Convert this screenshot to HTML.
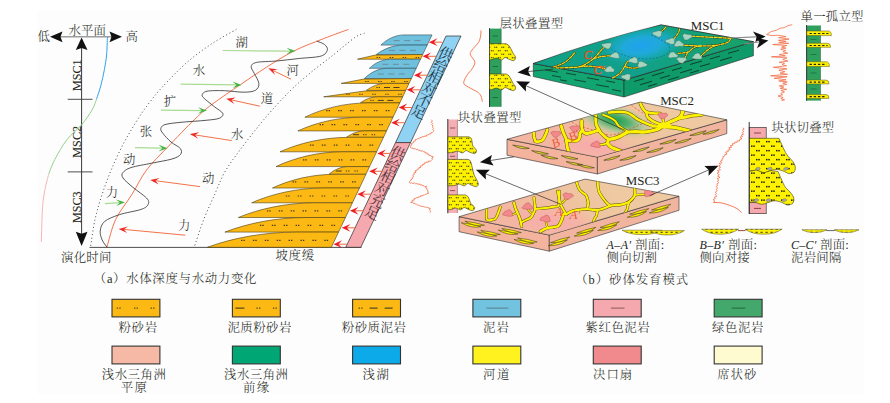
<!DOCTYPE html>
<html lang="zh"><head><meta charset="utf-8"><title>浅水三角洲砂体发育模式</title>
<style>
html,body{margin:0;padding:0;background:#fff;}
body{width:890px;height:403px;overflow:hidden;}
svg{display:block;}
.c{font-family:"Liberation Serif","Noto Serif CJK SC","Noto Sans CJK SC",serif;font-weight:300;}
.l{font-family:"Liberation Serif",serif;font-weight:400;}
.i{font-family:"Liberation Serif",serif;font-style:italic;font-weight:400;}
</style></head><body>
<svg width="890" height="403" viewBox="0 0 890 403">
<defs>
<radialGradient id="lake" cx="0.5" cy="0.5" r="0.5"><stop offset="0" stop-color="#1fa2ee"/><stop offset="0.42" stop-color="#20a9da"/><stop offset="0.74" stop-color="#16a8ae" stop-opacity="0.9"/><stop offset="1" stop-color="#10a58c" stop-opacity="0"/></radialGradient>
<linearGradient id="m1top" x1="0" y1="0" x2="1" y2="0"><stop offset="0" stop-color="#0fa184"/><stop offset="0.45" stop-color="#11a08c"/><stop offset="1" stop-color="#17a267"/></linearGradient>
<radialGradient id="grn2" cx="0.5" cy="0.5" r="0.5"><stop offset="0" stop-color="#1f9c50"/><stop offset="0.3" stop-color="#4fae6a"/><stop offset="0.62" stop-color="#a9c796" stop-opacity="0.85"/><stop offset="1" stop-color="#e9c39c" stop-opacity="0"/></radialGradient>
<radialGradient id="pinkr" cx="0.5" cy="0.5" r="0.5"><stop offset="0" stop-color="#f7abaa"/><stop offset="0.55" stop-color="#f6b0a9" stop-opacity="0.8"/><stop offset="1" stop-color="#f3b9a2" stop-opacity="0"/></radialGradient>
<linearGradient id="m2top" gradientUnits="userSpaceOnUse" x1="655" y1="100" x2="585" y2="160"><stop offset="0" stop-color="#eec9a1"/><stop offset="0.6" stop-color="#f0c0a0"/><stop offset="1" stop-color="#f3b6a2"/></linearGradient>
<linearGradient id="m3top" gradientUnits="userSpaceOnUse" x1="600" y1="178" x2="535" y2="238"><stop offset="0" stop-color="#eec9a1"/><stop offset="0.6" stop-color="#f0c0a0"/><stop offset="1" stop-color="#f3b6a2"/></linearGradient>
<pattern id="dots" width="7" height="7" patternUnits="userSpaceOnUse"><rect width="7" height="7" fill="#fff200"/><rect x="0.8" y="1.2" width="1.1" height="1.1" fill="#2a2a10"/><rect x="2.6" y="1.2" width="1.1" height="1.1" fill="#2a2a10"/><rect x="4.3" y="4.7" width="1.1" height="1.1" fill="#2a2a10"/><rect x="6.1" y="4.7" width="0.9" height="1.1" fill="#2a2a10"/><rect x="0" y="4.7" width="0.2" height="1.1" fill="#2a2a10"/></pattern>
<pattern id="dots3" width="10" height="9" patternUnits="userSpaceOnUse"><rect width="10" height="9" fill="#fff200"/><rect x="1" y="1.4" width="1.5" height="1.5" fill="#1c1c0c"/><rect x="3.3" y="1.4" width="1.5" height="1.5" fill="#1c1c0c"/><rect x="6" y="5.9" width="1.5" height="1.5" fill="#1c1c0c"/><rect x="8.3" y="5.9" width="1.5" height="1.5" fill="#1c1c0c"/></pattern>
<pattern id="dots2" width="5" height="3" patternUnits="userSpaceOnUse"><rect width="5" height="3" fill="#fff200"/><rect x="0.5" y="0.8" width="2.2" height="1" fill="#333"/></pattern>
</defs>
<rect width="890" height="403" fill="#fff"/>
<rect x="37" y="11" width="827" height="383" fill="#fdfdfd"/>

<g id="axis">
<line x1="56" y1="36.8" x2="116" y2="36.8" stroke="#9d9d9d" stroke-width="1.6"/>
<path d="M50,36.8 L62.5,31.6 L60.5,36.8 L62.5,42.2Z" fill="#111" stroke="none" stroke-width="1" />
<path d="M122,36.8 L109.5,31.6 L111.5,36.8 L109.5,42.2Z" fill="#111" stroke="none" stroke-width="1" />
<line x1="81.6" y1="46" x2="81.6" y2="236" stroke="#3a3a3a" stroke-width="1"/>
<path d="M81.6,37.6 L75.8,49.9 L81.6,48 L87.5,49.9Z" fill="#111" stroke="none" stroke-width="1" />
<path d="M81.6,245.9 L75.8,231.8 L81.6,233.8 L87.5,231.8Z" fill="#111" stroke="none" stroke-width="1" />
<line x1="67.7" y1="99.3" x2="92.5" y2="99.3" stroke="#3a3a3a" stroke-width="0.9"/>
<line x1="67.7" y1="171.9" x2="92.5" y2="171.9" stroke="#3a3a3a" stroke-width="0.9"/>
<text x="43.6" y="41.1" font-size="12.4" text-anchor="middle" class="c" fill="#231f20" >低</text>
<text x="87.2" y="34.7" font-size="12.4" text-anchor="middle" class="c" fill="#231f20" textLength="37.4" lengthAdjust="spacing" >水平面</text>
<text x="131.8" y="41.1" font-size="12.4" text-anchor="middle" class="c" fill="#231f20" >高</text>
<text transform="translate(80.7,75.2) rotate(-90)" font-size="12.2" text-anchor="middle" class="l" fill="#231f20" stroke="#231f20" stroke-width="0.1">MSC1</text>
<text transform="translate(80.7,141.8) rotate(-90)" font-size="12.2" text-anchor="middle" class="l" fill="#231f20" stroke="#231f20" stroke-width="0.1">MSC2</text>
<text transform="translate(80.7,207.2) rotate(-90)" font-size="12.2" text-anchor="middle" class="l" fill="#231f20" stroke="#231f20" stroke-width="0.1">MSC3</text>
<path d="M107.4,37 C107.3,40 107.1,49.6 106.6,55 C106.1,60.4 105.3,64.5 104.4,69.5 C103.5,74.5 102.3,80 101,85 C99.7,90 97.2,96.9 96.5,99.3" fill="none" stroke="#2ea3ea" stroke-width="1" />
<path d="M96.5,99.3 C95.8,101.1 94.5,105.8 92,110 C89.5,114.2 85.8,119.8 81.6,124.7 C77.4,129.6 71.5,133.8 67,139.6 C62.5,145.4 57.9,153.7 54.8,159.5 C51.7,165.3 49.6,171.9 48.6,174.4" fill="none" stroke="#93d28b" stroke-width="1" />
<path d="M48.6,174.4 C47.9,177.3 45.5,186.1 44.5,192 C43.5,197.9 42.9,201.7 42.4,210 C41.9,218.3 41.5,236.7 41.3,242" fill="none" stroke="#f8b4b6" stroke-width="1" />
<text x="86.2" y="262.1" font-size="12.4" text-anchor="middle" class="c" fill="#231f20" textLength="50.4" lengthAdjust="spacing" >演化时间</text>
</g>
<line x1="89.5" y1="247.4" x2="361.5" y2="247.4" stroke="#3a3a3a" stroke-width="0.9"/>
<g id="waves">
<path d="M236.4,29.4 C232.3,31.8 220.2,38.1 212,43.6 C203.8,49.1 195.5,55 187.2,62.2 C178.9,69.4 168.6,80.4 162.4,87 C156.2,93.6 153.9,96.9 150,101.9 C146.1,106.9 143.5,110.3 139.2,117 C134.9,123.7 129,133.2 124.3,142 C119.6,150.8 114.9,161.2 111.2,170 C107.5,178.8 104.7,186.5 102,194.8 C99.3,203.1 96.9,211 95,219.6 C93.1,228.2 91.3,242 90.6,246.5" fill="none" stroke="#333" stroke-width="0.9" stroke-dasharray="1 2.6"/>
<path d="M364.5,33.2 C362.9,33.9 360.1,33.8 355,37.4 C349.9,41 340.9,48.9 333.6,54.7 C326.3,60.5 318.7,65.9 311.3,72.1 C303.9,78.3 296.9,84.1 289,92 C281.1,99.9 272.3,109.6 264.1,119.3 C255.9,129 246.6,141.2 240,150 C233.4,158.8 229.1,164.5 224.8,172 C220.6,179.5 218,186.9 214.5,194.8 C211,202.7 207.1,210.9 203.7,219.6 C200.3,228.3 195.9,242.4 194.3,247" fill="none" stroke="#333" stroke-width="0.9" stroke-dasharray="1 2.6"/>
<path d="M107,247 C108.4,242.4 111.5,228.3 115.6,219.6 C119.7,210.9 126.5,203.1 131.7,194.8 C136.9,186.5 140.6,178 146.6,170 C152.6,162 159.7,155.4 167.7,147 C175.7,138.6 187.3,126.4 194.7,119.3 C202.1,112.2 204.3,110.2 212,104.4 C219.7,98.6 231.5,90.7 240.6,84.5 C249.7,78.3 257.7,72.7 266.6,67.1 C275.5,61.5 284.4,55.8 293.9,51 C303.4,46.2 314.6,42.2 323.7,38.6 C332.8,35 344.4,30.9 348.5,29.4" fill="none" stroke="#f2643c" stroke-width="0.9" />
<path d="M316.7,41.1 C318,41.7 322.7,43 324.5,44.5 C326.3,46 327.9,47.9 327.4,49.8 C326.8,51.7 325.9,54.5 321.2,56 C316.4,57.5 306.3,57.7 298.9,58.5 C291.5,59.3 283.6,60.4 276.6,61 C269.6,61.6 260.9,61.5 256.7,62.4 C252.5,63.3 251.6,64.6 251.2,66.4 C250.8,68.2 252.9,70.5 254.2,73.3 C255.5,76.1 258.7,80.7 258.9,83.5 C259.1,86.3 257.9,88.8 255.5,90.2 C253.1,91.7 249.5,92.1 244.3,92.2 C239.1,92.3 230.6,90.9 224.4,90.7 C218.2,90.5 210.7,90.5 207,91.2 C203.3,92 202.3,93.8 202.1,95.2 C201.9,96.6 203.7,97.9 205.8,99.8 C207.9,101.7 211.7,104.5 214.5,106.8 C217.3,109.1 222,111.5 222.8,113.4 C223.6,115.3 222,117.2 219.2,118.3 C216.4,119.4 212.4,119.6 206,120.3 C199.6,121 187.8,121.6 181,122.3 C174.2,123 168.4,123.5 165,124.6 C161.6,125.7 161.1,127.3 160.8,128.8 C160.5,130.3 161.3,131.3 163,133.5 C164.7,135.7 168.1,139.5 171,142 C173.9,144.5 178.7,146.4 180.3,148.5 C181.9,150.6 181.9,152.8 180.5,154.5 C179.1,156.2 176.8,157.6 172,159 C167.2,160.4 158.4,161.8 151.6,163.2 C144.8,164.6 135.8,166 131,167.6 C126.2,169.2 124.3,170.8 123,172.5 C121.7,174.2 121.3,175.5 123,178 C124.7,180.5 129.1,184.1 133,187.4 C136.9,190.7 143.9,195.2 146.5,198 C149.1,200.8 149.1,202.1 148.3,204 C147.5,205.9 146.5,207.4 141.7,209.2 C136.9,211 125.5,212.6 119.3,214.7 C113.1,216.8 107.8,218.8 104.6,221.5 C101.4,224.2 100.6,227.9 100.2,231 C99.8,234.1 101.1,237.3 102.2,240 C103.3,242.7 106.2,246 107,247.2" fill="none" stroke="#3a3a3a" stroke-width="0.85" />
<line x1="222.7" y1="50.5" x2="290.4" y2="51.1" stroke="#a9db92" stroke-width="1.2"/>
<path d="M295.6,51.1 L286.6,54.3 L290.4,51.1 L286.6,47.7Z" fill="#47b546" stroke="none" stroke-width="1" />
<line x1="180.5" y1="84.2" x2="236.4" y2="84.9" stroke="#a9db92" stroke-width="1.2"/>
<path d="M241.6,85 L232.6,88.2 L236.4,84.9 L232.6,81.6Z" fill="#47b546" stroke="none" stroke-width="1" />
<line x1="161" y1="110.2" x2="201.8" y2="110.6" stroke="#a9db92" stroke-width="1.2"/>
<path d="M207,110.6 L198,113.8 L201.8,110.6 L198,107.2Z" fill="#47b546" stroke="none" stroke-width="1" />
<line x1="135" y1="147.7" x2="162.4" y2="148.2" stroke="#a9db92" stroke-width="1.2"/>
<path d="M167.6,148.3 L158.5,151.4 L162.4,148.2 L158.7,144.8Z" fill="#47b546" stroke="none" stroke-width="1" />
<line x1="104.9" y1="203.6" x2="119.8" y2="202.6" stroke="#a9db92" stroke-width="1.2"/>
<path d="M125,202.2 L116.3,206.1 L119.8,202.6 L115.8,199.5Z" fill="#47b546" stroke="none" stroke-width="1" />
<line x1="291" y1="79.2" x2="273" y2="70.5" stroke="#f26a3d" stroke-width="0.95"/>
<path d="M268.3,68.2 L277.8,69.2 L273,70.5 L275,75.1Z" fill="#ee2a24" stroke="none" stroke-width="1" />
<line x1="259.9" y1="106.2" x2="231.3" y2="99.9" stroke="#f26a3d" stroke-width="0.95"/>
<path d="M226.2,98.8 L235.7,97.5 L231.3,99.9 L234.3,104Z" fill="#ee2a24" stroke="none" stroke-width="1" />
<line x1="231.8" y1="140.6" x2="195" y2="134.9" stroke="#f26a3d" stroke-width="0.95"/>
<path d="M189.8,134.1 L199.2,132.2 L195,134.9 L198.2,138.7Z" fill="#ee2a24" stroke="none" stroke-width="1" />
<line x1="200" y1="186.6" x2="155.4" y2="180.7" stroke="#f26a3d" stroke-width="0.95"/>
<path d="M150.2,180 L159.6,177.9 L155.4,180.7 L158.7,184.5Z" fill="#ee2a24" stroke="none" stroke-width="1" />
<line x1="185.2" y1="235.2" x2="123.8" y2="229.4" stroke="#f26a3d" stroke-width="0.95"/>
<path d="M118.6,228.9 L127.9,226.5 L123.8,229.4 L127.2,233Z" fill="#ee2a24" stroke="none" stroke-width="1" />
<text x="241.8" y="46.8" font-size="12.4" text-anchor="middle" class="c" fill="#231f20" >湖</text>
<text x="199" y="75.4" font-size="12.4" text-anchor="middle" class="c" fill="#231f20" >水</text>
<text x="169.9" y="105.9" font-size="12.4" text-anchor="middle" class="c" fill="#231f20" >扩</text>
<text x="146" y="135.5" font-size="12.4" text-anchor="middle" class="c" fill="#231f20" >张</text>
<text x="129.3" y="164" font-size="12.4" text-anchor="middle" class="c" fill="#231f20" >动</text>
<text x="111.9" y="196.8" font-size="12.4" text-anchor="middle" class="c" fill="#231f20" >力</text>
<text x="292.7" y="75.4" font-size="12.4" text-anchor="middle" class="c" fill="#231f20" >河</text>
<text x="267" y="102.7" font-size="12.4" text-anchor="middle" class="c" fill="#231f20" >道</text>
<text x="237.2" y="138.6" font-size="12.4" text-anchor="middle" class="c" fill="#231f20" >水</text>
<text x="208.1" y="182.5" font-size="12.4" text-anchor="middle" class="c" fill="#231f20" >动</text>
<text x="184.3" y="230.3" font-size="12.4" text-anchor="middle" class="c" fill="#231f20" >力</text>
</g>
<g id="lobes">
<path d="M380.9,45.1 C387.3,39 395.4,34.9 404,34.9 L432,34.9 L427.2,45.1 Z" fill="#6fc0dd" stroke="#2d4a55" stroke-width="0.6" stroke-linejoin="round"/>
<path d="M376.3,54.5 C383.8,48.9 393.1,45.1 403.2,45.1 L427.2,45.1 L422.7,54.5 Z" fill="#6fc0dd" stroke="#2d4a55" stroke-width="0.6" stroke-linejoin="round"/>
<path d="M357.5,59.2 L375.1,55.1 L422.7,54.5 L420.5,59.2 Z" fill="#fdb913" stroke="#4a3a12" stroke-width="0.6" stroke-linejoin="round"/>
<path d="M369.4,68.3 C375.2,62.8 382.6,59.2 390.5,59.2 L420.5,59.2 L416.2,68.3 Z" fill="#6fc0dd" stroke="#2d4a55" stroke-width="0.6" stroke-linejoin="round"/>
<path d="M364.4,78.5 C370.7,72.4 378.5,68.3 386.9,68.3 L416.2,68.3 L411.4,78.5 Z" fill="#6fc0dd" stroke="#2d4a55" stroke-width="0.6" stroke-linejoin="round"/>
<path d="M341.2,83.4 L363.6,79.1 L411.4,78.5 L409,83.4 Z" fill="#fdb913" stroke="#4a3a12" stroke-width="0.6" stroke-linejoin="round"/>
<path d="M366.4,90.4 C371.9,86.2 378.7,83.4 386.1,83.4 L409,83.4 L405.7,90.4 Z" fill="#fdb913" stroke="#4a3a12" stroke-width="0.6" stroke-linejoin="round"/>
<path d="M323.7,96.8 L364.8,91 L405.7,90.4 L402.7,96.8 Z" fill="#fdb913" stroke="#4a3a12" stroke-width="0.6" stroke-linejoin="round"/>
<path d="M360.4,102.9 C365.3,99.2 371.5,96.8 378.1,96.8 L402.7,96.8 L399.8,102.9 Z" fill="#fdb913" stroke="#4a3a12" stroke-width="0.6" stroke-linejoin="round"/>
<path d="M304.9,117.2 C322.5,108.6 344.6,102.9 368.3,102.9 L399.8,102.9 L393,117.2 Z" fill="#fdb913" stroke="#4a3a12" stroke-width="0.6" stroke-linejoin="round"/>
<path d="M297.9,130.9 C315.6,122.7 337.8,117.2 361.7,117.2 L393,117.2 L386.5,130.9 Z" fill="#fdb913" stroke="#4a3a12" stroke-width="0.6" stroke-linejoin="round"/>
<path d="M346.5,137.3 C351.6,133.5 358.1,130.9 365,130.9 L386.5,130.9 L383.5,137.3 Z" fill="#fdb913" stroke="#4a3a12" stroke-width="0.6" stroke-linejoin="round"/>
<path d="M280,151.8 C299.3,143.1 323.5,137.3 349.6,137.3 L383.5,137.3 L376.6,151.8 Z" fill="#fdb913" stroke="#4a3a12" stroke-width="0.6" stroke-linejoin="round"/>
<path d="M276,166.6 C294.7,157.7 318.1,151.8 343.4,151.8 L376.6,151.8 L369.6,166.6 Z" fill="#fdb913" stroke="#4a3a12" stroke-width="0.6" stroke-linejoin="round"/>
<path d="M329,174.3 C334.3,169.7 341,166.6 348.2,166.6 L369.6,166.6 L365.9,174.3 Z" fill="#fdb913" stroke="#4a3a12" stroke-width="0.6" stroke-linejoin="round"/>
<path d="M272.5,188 C289.9,179.8 311.6,174.3 335.1,174.3 L365.9,174.3 L359.5,188 Z" fill="#fdb913" stroke="#4a3a12" stroke-width="0.6" stroke-linejoin="round"/>
<path d="M251.7,202.8 C271.8,193.9 297,188 324.2,188 L359.5,188 L352.4,202.8 Z" fill="#fdb913" stroke="#4a3a12" stroke-width="0.6" stroke-linejoin="round"/>
<path d="M238.3,217.5 C259.7,208.7 286.5,202.8 315.5,202.8 L352.4,202.8 L345.5,217.5 Z" fill="#fdb913" stroke="#4a3a12" stroke-width="0.6" stroke-linejoin="round"/>
<path d="M224.9,232.1 C247.6,223.3 276,217.5 306.7,217.5 L345.5,217.5 L338.5,232.1 Z" fill="#fdb913" stroke="#4a3a12" stroke-width="0.6" stroke-linejoin="round"/>
<path d="M207.4,247.3 C232.2,238.2 263.2,232.1 296.6,232.1 L338.5,232.1 L331.3,247.3 Z" fill="#fdb913" stroke="#4a3a12" stroke-width="0.6" stroke-linejoin="round"/>
<line x1="393.6" y1="40.6" x2="399.6" y2="40.6" stroke="#6a8894" stroke-width="0.9"/><line x1="404.1" y1="40.6" x2="410.1" y2="40.6" stroke="#6a8894" stroke-width="0.9"/><line x1="414.6" y1="40.6" x2="420.6" y2="40.6" stroke="#6a8894" stroke-width="0.9"/><line x1="389" y1="50.4" x2="395" y2="50.4" stroke="#6a8894" stroke-width="0.9"/><line x1="399.5" y1="50.4" x2="405.5" y2="50.4" stroke="#6a8894" stroke-width="0.9"/><line x1="410" y1="50.4" x2="416" y2="50.4" stroke="#6a8894" stroke-width="0.9"/><path d="M415.6,57.5 h1.3 m1,0 h1.3" stroke="#4b3b1a" stroke-width="1.1"/><path d="M402.6,57.5 h1.3 m1,0 h1.3" stroke="#4b3b1a" stroke-width="1.1"/><path d="M389.6,57.5 h1.3 m1,0 h1.3" stroke="#4b3b1a" stroke-width="1.1"/><path d="M376.6,57.5 h1.3 m1,0 h1.3" stroke="#4b3b1a" stroke-width="1.1"/><line x1="382.3" y1="64.3" x2="388.3" y2="64.3" stroke="#6a8894" stroke-width="0.9"/><line x1="392.8" y1="64.3" x2="398.8" y2="64.3" stroke="#6a8894" stroke-width="0.9"/><line x1="403.3" y1="64.3" x2="409.3" y2="64.3" stroke="#6a8894" stroke-width="0.9"/><line x1="377.8" y1="74" x2="383.8" y2="74" stroke="#6a8894" stroke-width="0.9"/><line x1="388.3" y1="74" x2="394.3" y2="74" stroke="#6a8894" stroke-width="0.9"/><line x1="398.8" y1="74" x2="404.8" y2="74" stroke="#6a8894" stroke-width="0.9"/><path d="M404.2,81.5 h1.3 m1,0 h1.3" stroke="#4b3b1a" stroke-width="1.1"/><path d="M391.2,81.5 h1.3 m1,0 h1.3" stroke="#4b3b1a" stroke-width="1.1"/><path d="M378.2,81.5 h1.3 m1,0 h1.3" stroke="#4b3b1a" stroke-width="1.1"/><path d="M365.2,81.5 h1.3 m1,0 h1.3" stroke="#4b3b1a" stroke-width="1.1"/><path d="M376.4,87.5 h1.3 m1,0 h1.3 m4,0 h6 m3.5,0 h6" stroke="#4b3b1a" stroke-width="1"/><path d="M398.2,94.2 h1.3 m1,0 h1.3" stroke="#4b3b1a" stroke-width="1.1"/><path d="M385.2,94.2 h1.3 m1,0 h1.3" stroke="#4b3b1a" stroke-width="1.1"/><path d="M372.2,94.2 h1.3 m1,0 h1.3" stroke="#4b3b1a" stroke-width="1.1"/><path d="M359.2,94.2 h1.3 m1,0 h1.3" stroke="#4b3b1a" stroke-width="1.1"/><path d="M346.2,94.2 h1.3 m1,0 h1.3" stroke="#4b3b1a" stroke-width="1.1"/><path d="M370.2,100.4 h1.3 m1,0 h1.3 m4,0 h6 m3.5,0 h6" stroke="#4b3b1a" stroke-width="1"/><path d="M385.7,110.7 h1.4 m1,0 h1.4" stroke="#4b3b1a" stroke-width="1.2"/><path d="M373.8,110.7 h1.4 m1,0 h1.4" stroke="#4b3b1a" stroke-width="1.2"/><path d="M361.9,110.7 h1.4 m1,0 h1.4" stroke="#4b3b1a" stroke-width="1.2"/><path d="M350,110.7 h1.4 m1,0 h1.4" stroke="#4b3b1a" stroke-width="1.2"/><path d="M338.1,110.7 h1.4 m1,0 h1.4" stroke="#4b3b1a" stroke-width="1.2"/><path d="M326.2,110.7 h1.4 m1,0 h1.4" stroke="#4b3b1a" stroke-width="1.2"/><path d="M379.1,124.7 h1.4 m1,0 h1.4" stroke="#4b3b1a" stroke-width="1.2"/><path d="M367.2,124.7 h1.4 m1,0 h1.4" stroke="#4b3b1a" stroke-width="1.2"/><path d="M355.3,124.7 h1.4 m1,0 h1.4" stroke="#4b3b1a" stroke-width="1.2"/><path d="M343.4,124.7 h1.4 m1,0 h1.4" stroke="#4b3b1a" stroke-width="1.2"/><path d="M331.5,124.7 h1.4 m1,0 h1.4" stroke="#4b3b1a" stroke-width="1.2"/><path d="M319.6,124.7 h1.4 m1,0 h1.4" stroke="#4b3b1a" stroke-width="1.2"/><path d="M353,134.7 h6 m4,0 h1.3 m1,0 h1.3 m5,0 h1.3 m1,0 h1.3" stroke="#4b3b1a" stroke-width="1"/><path d="M369.4,145.2 h1.4 m1,0 h1.4" stroke="#4b3b1a" stroke-width="1.2"/><path d="M357.5,145.2 h1.4 m1,0 h1.4" stroke="#4b3b1a" stroke-width="1.2"/><path d="M345.6,145.2 h1.4 m1,0 h1.4" stroke="#4b3b1a" stroke-width="1.2"/><path d="M333.7,145.2 h1.4 m1,0 h1.4" stroke="#4b3b1a" stroke-width="1.2"/><path d="M321.8,145.2 h1.4 m1,0 h1.4" stroke="#4b3b1a" stroke-width="1.2"/><path d="M309.9,145.2 h1.4 m1,0 h1.4" stroke="#4b3b1a" stroke-width="1.2"/><path d="M362.4,159.8 h1.4 m1,0 h1.4" stroke="#4b3b1a" stroke-width="1.2"/><path d="M350.5,159.8 h1.4 m1,0 h1.4" stroke="#4b3b1a" stroke-width="1.2"/><path d="M338.6,159.8 h1.4 m1,0 h1.4" stroke="#4b3b1a" stroke-width="1.2"/><path d="M326.7,159.8 h1.4 m1,0 h1.4" stroke="#4b3b1a" stroke-width="1.2"/><path d="M314.8,159.8 h1.4 m1,0 h1.4" stroke="#4b3b1a" stroke-width="1.2"/><path d="M302.9,159.8 h1.4 m1,0 h1.4" stroke="#4b3b1a" stroke-width="1.2"/><path d="M335.8,171 h6 m4,0 h1.3 m1,0 h1.3 m5,0 h1.3 m1,0 h1.3" stroke="#4b3b1a" stroke-width="1"/><path d="M352,181.8 h1.4 m1,0 h1.4" stroke="#4b3b1a" stroke-width="1.2"/><path d="M340.1,181.8 h1.4 m1,0 h1.4" stroke="#4b3b1a" stroke-width="1.2"/><path d="M328.2,181.8 h1.4 m1,0 h1.4" stroke="#4b3b1a" stroke-width="1.2"/><path d="M316.3,181.8 h1.4 m1,0 h1.4" stroke="#4b3b1a" stroke-width="1.2"/><path d="M304.4,181.8 h1.4 m1,0 h1.4" stroke="#4b3b1a" stroke-width="1.2"/><path d="M292.5,181.8 h1.4 m1,0 h1.4" stroke="#4b3b1a" stroke-width="1.2"/><path d="M345.3,196 h1.4 m1,0 h1.4" stroke="#4b3b1a" stroke-width="1.2"/><path d="M333.4,196 h1.4 m1,0 h1.4" stroke="#4b3b1a" stroke-width="1.2"/><path d="M321.5,196 h1.4 m1,0 h1.4" stroke="#4b3b1a" stroke-width="1.2"/><path d="M309.6,196 h1.4 m1,0 h1.4" stroke="#4b3b1a" stroke-width="1.2"/><path d="M297.7,196 h1.4 m1,0 h1.4" stroke="#4b3b1a" stroke-width="1.2"/><path d="M285.8,196 h1.4 m1,0 h1.4" stroke="#4b3b1a" stroke-width="1.2"/><path d="M338.3,210.8 h1.4 m1,0 h1.4" stroke="#4b3b1a" stroke-width="1.2"/><path d="M326.4,210.8 h1.4 m1,0 h1.4" stroke="#4b3b1a" stroke-width="1.2"/><path d="M314.5,210.8 h1.4 m1,0 h1.4" stroke="#4b3b1a" stroke-width="1.2"/><path d="M302.6,210.8 h1.4 m1,0 h1.4" stroke="#4b3b1a" stroke-width="1.2"/><path d="M290.7,210.8 h1.4 m1,0 h1.4" stroke="#4b3b1a" stroke-width="1.2"/><path d="M278.8,210.8 h1.4 m1,0 h1.4" stroke="#4b3b1a" stroke-width="1.2"/><path d="M266.9,210.8 h1.4 m1,0 h1.4" stroke="#4b3b1a" stroke-width="1.2"/><path d="M331.3,225.4 h1.4 m1,0 h1.4" stroke="#4b3b1a" stroke-width="1.2"/><path d="M319.4,225.4 h1.4 m1,0 h1.4" stroke="#4b3b1a" stroke-width="1.2"/><path d="M307.5,225.4 h1.4 m1,0 h1.4" stroke="#4b3b1a" stroke-width="1.2"/><path d="M295.6,225.4 h1.4 m1,0 h1.4" stroke="#4b3b1a" stroke-width="1.2"/><path d="M283.7,225.4 h1.4 m1,0 h1.4" stroke="#4b3b1a" stroke-width="1.2"/><path d="M271.8,225.4 h1.4 m1,0 h1.4" stroke="#4b3b1a" stroke-width="1.2"/><path d="M259.9,225.4 h1.4 m1,0 h1.4" stroke="#4b3b1a" stroke-width="1.2"/><path d="M324.3,240.3 h1.4 m1,0 h1.4" stroke="#4b3b1a" stroke-width="1.2"/><path d="M312.4,240.3 h1.4 m1,0 h1.4" stroke="#4b3b1a" stroke-width="1.2"/><path d="M300.5,240.3 h1.4 m1,0 h1.4" stroke="#4b3b1a" stroke-width="1.2"/><path d="M288.6,240.3 h1.4 m1,0 h1.4" stroke="#4b3b1a" stroke-width="1.2"/><path d="M276.7,240.3 h1.4 m1,0 h1.4" stroke="#4b3b1a" stroke-width="1.2"/><path d="M264.8,240.3 h1.4 m1,0 h1.4" stroke="#4b3b1a" stroke-width="1.2"/><path d="M252.9,240.3 h1.4 m1,0 h1.4" stroke="#4b3b1a" stroke-width="1.2"/><path d="M241,240.3 h1.4 m1,0 h1.4" stroke="#4b3b1a" stroke-width="1.2"/>
</g>
<g id="slab">
<path d="M446,36 L461,36 L410.5,142.6 L395.5,142.6Z" fill="#8fd2f3" stroke="#2b2b2b" stroke-width="0.7" />
<path d="M395.5,142.6 L410.5,142.6 L360.8,247.3 L345.8,247.3Z" fill="#f5a8ae" stroke="#2b2b2b" stroke-width="0.7" />
<text transform="translate(446,53.9) rotate(25.4)" font-size="14.4" text-anchor="middle" y="5.2" class="c" style="font-weight:400" fill="#1f3a4c">供</text>
<text transform="translate(440.5,65.5) rotate(25.4)" font-size="14.4" text-anchor="middle" y="5.2" class="c" style="font-weight:400" fill="#1f3a4c">给</text>
<text transform="translate(435.1,77.1) rotate(25.4)" font-size="14.4" text-anchor="middle" y="5.2" class="c" style="font-weight:400" fill="#1f3a4c">相</text>
<text transform="translate(429.6,88.8) rotate(25.4)" font-size="14.4" text-anchor="middle" y="5.2" class="c" style="font-weight:400" fill="#1f3a4c">对</text>
<text transform="translate(424.2,100.4) rotate(25.4)" font-size="14.4" text-anchor="middle" y="5.2" class="c" style="font-weight:400" fill="#1f3a4c">不</text>
<text transform="translate(418.7,112) rotate(25.4)" font-size="14.4" text-anchor="middle" y="5.2" class="c" style="font-weight:400" fill="#1f3a4c">足</text>
<text transform="translate(398,153.4) rotate(25.4)" font-size="14.4" text-anchor="middle" y="5.2" class="c" style="font-weight:400" fill="#55343a">供</text>
<text transform="translate(392.8,165.3) rotate(25.4)" font-size="14.4" text-anchor="middle" y="5.2" class="c" style="font-weight:400" fill="#55343a">给</text>
<text transform="translate(387.7,177.2) rotate(25.4)" font-size="14.4" text-anchor="middle" y="5.2" class="c" style="font-weight:400" fill="#55343a">相</text>
<text transform="translate(382.5,189.1) rotate(25.4)" font-size="14.4" text-anchor="middle" y="5.2" class="c" style="font-weight:400" fill="#55343a">对</text>
<text transform="translate(377.4,201) rotate(25.4)" font-size="14.4" text-anchor="middle" y="5.2" class="c" style="font-weight:400" fill="#55343a">充</text>
<text transform="translate(372.2,212.9) rotate(25.4)" font-size="14.4" text-anchor="middle" y="5.2" class="c" style="font-weight:400" fill="#55343a">足</text>
</g>
<g id="feed">
<line x1="442.4" y1="42.2" x2="433.9" y2="42.2" stroke="#f26a3d" stroke-width="1.0"/>
<path d="M428.9,42.2 L437.5,38.3 L433.9,42.2 L437.5,46.1Z" fill="#ee1c24" stroke="none" stroke-width="1" />
<line x1="436" y1="56.3" x2="427.5" y2="56.3" stroke="#f26a3d" stroke-width="1.0"/>
<path d="M422.5,56.3 L431.1,52.4 L427.5,56.3 L431.1,60.2Z" fill="#ee1c24" stroke="none" stroke-width="1" />
<line x1="427.5" y1="75.2" x2="419" y2="75.2" stroke="#f26a3d" stroke-width="1.0"/>
<path d="M414,75.2 L422.6,71.3 L419,75.2 L422.6,79.1Z" fill="#ee1c24" stroke="none" stroke-width="1" />
<line x1="420.2" y1="89.8" x2="411.7" y2="89.8" stroke="#f26a3d" stroke-width="1.0"/>
<path d="M406.7,89.8 L415.3,85.9 L411.7,89.8 L415.3,93.7Z" fill="#ee1c24" stroke="none" stroke-width="1" />
<line x1="412.2" y1="107.5" x2="403.7" y2="107.5" stroke="#f26a3d" stroke-width="1.0"/>
<path d="M398.7,107.5 L407.3,103.6 L403.7,107.5 L407.3,111.4Z" fill="#ee1c24" stroke="none" stroke-width="1" />
<line x1="404.7" y1="122.7" x2="396.2" y2="122.7" stroke="#f26a3d" stroke-width="1.0"/>
<path d="M391.2,122.7 L399.8,118.8 L396.2,122.7 L399.8,126.6Z" fill="#ee1c24" stroke="none" stroke-width="1" />
<line x1="390.8" y1="153.4" x2="382.3" y2="153.4" stroke="#f26a3d" stroke-width="1.0"/>
<path d="M377.3,153.4 L385.9,149.5 L382.3,153.4 L385.9,157.3Z" fill="#ee1c24" stroke="none" stroke-width="1" />
<line x1="382.7" y1="171.3" x2="374.2" y2="171.3" stroke="#f26a3d" stroke-width="1.0"/>
<path d="M369.2,171.3 L377.8,167.4 L374.2,171.3 L377.8,175.2Z" fill="#ee1c24" stroke="none" stroke-width="1" />
<line x1="370.8" y1="194.2" x2="362.3" y2="194.2" stroke="#f26a3d" stroke-width="1.0"/>
<path d="M357.3,194.2 L365.9,190.3 L362.3,194.2 L365.9,198.1Z" fill="#ee1c24" stroke="none" stroke-width="1" />
<line x1="363.4" y1="210.8" x2="354.9" y2="210.8" stroke="#f26a3d" stroke-width="1.0"/>
<path d="M349.9,210.8 L358.5,206.9 L354.9,210.8 L358.5,214.7Z" fill="#ee1c24" stroke="none" stroke-width="1" />
<line x1="355.3" y1="227.8" x2="346.8" y2="227.8" stroke="#f26a3d" stroke-width="1.0"/>
<path d="M341.8,227.8 L350.4,223.9 L346.8,227.8 L350.4,231.7Z" fill="#ee1c24" stroke="none" stroke-width="1" />
<line x1="347" y1="244.2" x2="338.5" y2="244.2" stroke="#f26a3d" stroke-width="1.0"/>
<path d="M333.5,244.2 L342.1,240.3 L338.5,244.2 L342.1,248.1Z" fill="#ee1c24" stroke="none" stroke-width="1" />
</g>
<text x="294.8" y="260.1" font-size="12.4" text-anchor="middle" class="c" fill="#231f20" textLength="38.5" lengthAdjust="spacing" >坡度缓</text>
<path d="M431.3,119.7 L432.3,120.9 L431.4,122.3 L432.5,123.5 L431.8,124.8 L433.1,126 L432.5,127.2 L433.5,128.3 L432.8,129.6 L433.7,130.7 L433.2,131.8 L432.4,132.6 L431,132.7 L430.6,134 L429,134 L428.3,134.9 L426.7,134.9 L426.3,136.3 L424.6,135.9 L423.9,137 L422.2,136.5 L421.5,137.7 L419.9,137.5 L419.2,138.6 L417.8,138.7 L416.9,139.4 L415.3,139.5 L415.3,141 L413.5,141.5 L413.4,142.9 L411.3,143.4 L411.9,145 L410.3,146.1 L410.5,147.4 L411.5,148 L412.9,148 L413.7,149 L415.3,148.6 L416.2,149.6 L417.7,149.3 L418.5,150.4 L420,150.2 L420.8,151.3 L422.4,150.7 L423.2,151.7 L424.7,151.7 L425.1,153 L426.9,152.8 L427.1,154.2 L428.7,154.2 L429,155.5 L430.7,155.4 L431.3,156.4 L433.4,156.9 L431.9,157.9 L432.3,159.4 L431.2,160.5 L430.5,161.4 L428.8,161 L428.2,162.3 L426.6,161.8 L426,163 L424.2,162.9 L424.2,164.3 L422.4,164.5 L422.3,165.8 L420.5,165.9 L420.8,167.5 L418.9,167.6 L418.8,169 L417.3,169.3 L417,170.6 L415,170.8 L415.9,172.4 L413.7,173 L414.3,174.5 L412.9,175.3 L413.5,176.8 L412.1,177.6 L412.2,179 L410.8,179.7 L410.6,180.8 L409.5,181.6 L409.2,182.2 L410.4,183.1 L411.8,182.8 L412.9,183.6 L414.4,182.9 L415.6,183.8 L417,183.5 L418,184.4 L419.6,183.9 L420.2,185.2 L421.8,184.6 L422.5,185.7 L423.9,185.6 L424.7,186.5 L426.8,186.4 L425.5,187.9 L427.2,188.7 L427,189.9 L428.1,190.8 L427.8,192.1 L428.8,193.4 L427.3,193.2 L426.6,194.2 L425.3,194.3 L424.5,195.1 L423,195 L422.3,196.1 L420.7,195.6 L420.2,197 L418.6,196.7 L418,197.8 L416.4,197.5 L415.8,198.4 L414.1,198.7 L414.2,200.2 L412.2,200.2 L412.4,201.8 L410.7,202.5 L412.2,202.3 L413,203.2 L414.5,203.1 L415.2,204.1 L416.5,204.2 L417.4,205 L418.7,205 L419.5,205.9 L420.9,206 L421.9,206.5 L423.2,206.4 L424.2,207.1 L425.5,206.9 L426.5,207.5 L427.9,207.1 L428.7,208.3 L430.3,208.2 L429.6,209.7 L430.5,211.2 L430,212.7" fill="none" stroke="#f2673c" stroke-width="0.75" stroke-linejoin="round"/>
<g id="col-layer">
<rect x="489.5" y="28.6" width="11.7" height="78.2" fill="#2e9f5d"/>
<line x1="489.5" y1="28.2" x2="489.5" y2="107" stroke="#222" stroke-width="0.9"/>
<line x1="501.2" y1="28.6" x2="501.2" y2="106.8" stroke="#1d5c39" stroke-width="0.5"/>
<line x1="492.5" y1="36" x2="498" y2="36" stroke="#17663c" stroke-width="0.8"/>
<line x1="492.5" y1="66.5" x2="498" y2="66.5" stroke="#17663c" stroke-width="0.8"/>
<line x1="492.5" y1="97.5" x2="498" y2="97.5" stroke="#17663c" stroke-width="0.8"/>
<path d="M489.5,43.7 L506.2,43.7 C506.6,44 507.9,44.5 508.7,45.3 C509.5,46.2 510.2,47.5 510.9,48.8 C511.7,50.1 512.3,51.8 513.1,53.2 C513.9,54.6 515.5,56 515.6,57.2 C515.7,58.4 515,60.2 513.9,60.6 C512.8,61 510.4,59.8 509,59.3 C507.6,58.8 506.4,57.4 505.2,57.5 C504,57.6 503,59.8 501.6,59.9 C500.2,60 498.2,58.2 496.6,58.1 C495,58 493.3,59.2 492.1,59.5 C490.9,59.8 489.9,59.7 489.5,59.7 Z" fill="url(#dots)" stroke="#3a3a1a" stroke-width="0.6" stroke-linejoin="round"/>
<path d="M489.5,74 L506.2,74 C506.6,74.3 507.9,74.8 508.7,75.6 C509.5,76.4 510.2,77.7 510.9,79 C511.7,80.3 512.3,82 513.1,83.4 C513.9,84.7 515.5,86 515.6,87.2 C515.7,88.4 515,90.3 513.9,90.6 C512.8,91 510.4,89.8 509,89.3 C507.6,88.8 506.4,87.4 505.2,87.5 C504,87.6 503,89.8 501.6,89.9 C500.2,90 498.2,88.2 496.6,88.1 C495,88 493.3,89.2 492.1,89.5 C490.9,89.8 489.9,89.7 489.5,89.7 Z" fill="url(#dots)" stroke="#3a3a1a" stroke-width="0.6" stroke-linejoin="round"/>
<path d="M481,30.4 C480.9,31.3 481,34 480.6,36 C480.2,38 480,40 478.6,42.3 C477.2,44.6 473.4,47.9 472,50 C470.6,52.1 469.9,52.7 470.4,54.7 C470.9,56.7 474.6,59.7 474.9,62.1 C475.2,64.5 473.2,66.9 472,69 C470.8,71.1 468.8,72.2 467.4,74.6 C466,77 463.3,81 463.7,83.2 C464.1,85.4 467.7,86.5 470,88 C472.3,89.5 475.5,90.6 477.3,91.9 C479.1,93.2 480.2,94.3 481,96 C481.8,97.7 482.1,100.8 482.3,101.8" fill="none" stroke="#f15a29" stroke-width="0.8" />
<text x="531.3" y="28.1" font-size="12.4" text-anchor="middle" class="c" fill="#231f20" textLength="63.5" lengthAdjust="spacing" >层状叠置型</text>
</g>
<g id="col-block">
<rect x="447.8" y="119.5" width="9.6" height="93.5" fill="#f5b0b5"/>
<line x1="447.8" y1="119" x2="447.8" y2="213.3" stroke="#222" stroke-width="0.9"/>
<line x1="457.4" y1="119.5" x2="457.4" y2="213" stroke="#6d3a3f" stroke-width="0.5"/>
<line x1="450" y1="128" x2="455.2" y2="128" stroke="#7a3b40" stroke-width="0.8"/>
<line x1="450" y1="156.3" x2="455.2" y2="156.3" stroke="#7a3b40" stroke-width="0.8"/>
<line x1="450" y1="190.6" x2="455.2" y2="190.6" stroke="#7a3b40" stroke-width="0.8"/>
<path d="M447.9,136.8 L468.8,136.8 C469.2,137.1 470.7,137.6 471.3,138.4 C471.8,139.2 471.8,140.6 472.1,141.9 C472.4,143.2 472.3,144.9 473,146.3 C473.7,147.7 476.2,149 476.5,150.2 C476.8,151.4 475.9,153.2 474.8,153.6 C473.7,153.9 471.3,152.8 469.9,152.3 C468.4,151.8 467.3,150.4 466.1,150.5 C464.9,150.6 463.9,152.8 462.5,152.9 C461.1,153 459.1,151.2 457.5,151.1 C455.9,151 454.6,152.2 453,152.5 C451.4,152.8 448.8,152.7 447.9,152.7 Z" fill="url(#dots)" stroke="#3a3a1a" stroke-width="0.6" stroke-linejoin="round"/>
<path d="M447.9,159.4 L467.9,159.4 C468.3,159.7 469.7,159.6 470.4,161 C471.1,162.4 471.7,165.3 472.3,167.6 C472.9,169.9 473.1,172.1 474.1,174.7 C475.1,177.3 477.8,181.2 478.2,183.2 C478.6,185.2 477.6,186.2 476.5,186.6 C475.4,186.9 473,185.8 471.6,185.3 C470.1,184.8 469,183.4 467.8,183.5 C466.6,183.6 465.6,185.8 464.2,185.9 C462.8,186 460.8,184.2 459.2,184.1 C457.6,184 456.6,185.2 454.7,185.5 C452.8,185.8 449,185.7 447.9,185.7 Z" fill="url(#dots)" stroke="#3a3a1a" stroke-width="0.6" stroke-linejoin="round"/>
<path d="M447.9,194.9 L465.4,194.9 C465.8,195.2 467.2,195.7 467.9,196.5 C468.6,197.3 468.9,198.4 469.4,199.6 C469.9,200.8 470.1,202.5 471,203.7 C471.9,205 474.3,206.1 474.6,207.2 C474.9,208.3 474,210.2 472.9,210.6 C471.8,210.9 469.4,209.8 468,209.3 C466.6,208.8 465.4,207.4 464.2,207.5 C463,207.6 462,209.8 460.6,209.9 C459.2,210 457.2,208.2 455.6,208.1 C454,208 452.4,209.2 451.1,209.5 C449.8,209.8 448.4,209.7 447.9,209.7 Z" fill="url(#dots)" stroke="#3a3a1a" stroke-width="0.6" stroke-linejoin="round"/>
<text x="489.6" y="122.2" font-size="12.4" text-anchor="middle" class="c" fill="#231f20" textLength="63.8" lengthAdjust="spacing" >块状叠置型</text>
</g>
<g id="col-single">
<rect x="806.6" y="25.5" width="13.9" height="75.1" fill="#2e9f5d"/>
<line x1="806.6" y1="25" x2="806.6" y2="100.8" stroke="#222" stroke-width="0.9"/>
<line x1="820.5" y1="25.5" x2="820.5" y2="100.6" stroke="#1d5c39" stroke-width="0.5"/>
<line x1="810.5" y1="39.5" x2="816.5" y2="39.5" stroke="#17663c" stroke-width="0.7"/>
<line x1="810.5" y1="54.5" x2="816.5" y2="54.5" stroke="#17663c" stroke-width="0.7"/>
<line x1="810.5" y1="73" x2="816.5" y2="73" stroke="#17663c" stroke-width="0.7"/>
<line x1="810.5" y1="89" x2="816.5" y2="89" stroke="#17663c" stroke-width="0.7"/>
<path d="M806.8,31 L828.4,31 Q831.4,31 831.4,35.6 L806.8,35.6 Z" fill="#fff200" stroke="#55501a" stroke-width="0.5" />
<line x1="809.5" y1="33.5" x2="828.4" y2="33.5" stroke="#222" stroke-width="1.2" stroke-dasharray="2.4 1.8"/>
<path d="M806.8,43.3 L827.6,43.3 Q830.6,43.3 830.6,47.3 L806.8,47.3 Z" fill="#fff200" stroke="#55501a" stroke-width="0.5" />
<line x1="809.5" y1="45.5" x2="827.6" y2="45.5" stroke="#222" stroke-width="1.2" stroke-dasharray="2.4 1.8"/>
<path d="M806.8,61.8 L826.4,61.8 Q829.4,61.8 829.4,66.5 L806.8,66.5 Z" fill="#fff200" stroke="#55501a" stroke-width="0.5" />
<line x1="809.5" y1="64.4" x2="826.4" y2="64.4" stroke="#222" stroke-width="1.2" stroke-dasharray="2.4 1.8"/>
<path d="M806.8,80.1 L826,80.1 Q829,80.1 829,83.9 L806.8,83.9 Z" fill="#fff200" stroke="#55501a" stroke-width="0.5" />
<line x1="809.5" y1="82.2" x2="826" y2="82.2" stroke="#222" stroke-width="1.2" stroke-dasharray="2.4 1.8"/>
<path d="M806.8,94.6 L826,94.6 Q829,94.6 829,98.4 L806.8,98.4 Z" fill="#fff200" stroke="#55501a" stroke-width="0.5" />
<line x1="809.5" y1="96.7" x2="826" y2="96.7" stroke="#222" stroke-width="1.2" stroke-dasharray="2.4 1.8"/>
<text x="832" y="21.4" font-size="12.4" text-anchor="middle" class="c" fill="#231f20" textLength="63" lengthAdjust="spacing" >单一孤立型</text>
<path d="M792.3,24.7 L788,25.6 L784.5,27.6 L780,28.3 L776,30.4 L771,31.6 L766.6,34.5 L772,35.6 L778,35.2 L786,36.6 L778.6,37.6 L789.1,39.1 L778.4,40.3 L786.1,41.3 L778.8,42.4 L788.7,43.3 L772.7,44.6 L786.8,45.5 L781.5,47.1 L786,48.1 L780.7,49.2 L785.7,50.6 L782.9,51.7 L787.7,53.2 L779.1,54.6 L785.6,55.9 L771.4,56.8 L787,57.9 L782.7,59.5 L788,61.1 L779.1,62.2 L784.6,63.3 L782.2,64.6 L786.5,65.8 L773.3,67.3 L787,68.8 L778.9,70.3 L784.9,71.7 L780,73.2 L787.5,74.3 L770.6,75.8 L787.2,76.8 L774.1,78.2 L786,79.8 L778.7,81 L787.3,81.9 L782.7,83.2 L786.7,84.4 L779.3,85.9 L783.9,87 L780.1,88.3 L786.7,89.3 L780.9,90.5 L784.5,92 L780.7,93.5 L782.6,94.8 L778,96 L783.1,97.5 L780.8,98.7 L784.6,99.8 L781.6,100.6" fill="none" stroke="#f2673c" stroke-width="0.75" stroke-linejoin="round"/>
</g>
<g id="col-cut">
<rect x="749.2" y="127.3" width="17" height="11" fill="#f5a8ae" stroke="#222" stroke-width="0.6"/>
<rect x="749.2" y="202.4" width="17" height="11.3" fill="#f5a8ae" stroke="#222" stroke-width="0.6"/>
<line x1="754" y1="133" x2="761" y2="133" stroke="#6d2a30" stroke-width="0.8"/>
<line x1="754" y1="208.4" x2="761" y2="208.4" stroke="#6d2a30" stroke-width="0.8"/>
<path d="M749.3,138.3 L779,138.3 C783,147.3 785.6,154.3 789.6,157.9 C794.1,162.4 797.4,167.4 793.9,172.4 C793.1,172.6 790.7,173.8 788.9,173.6 C787.1,173.3 785.1,171.6 782.9,170.9 C780.7,170.2 778.2,169.3 775.9,169.4 C773.6,169.5 771.1,170.8 768.9,171.4 C766.7,172 765.1,173 762.9,172.9 C760.7,172.8 758.2,170.9 755.9,170.6 C753.6,170.2 750.4,170.8 749.3,170.8 Z" fill="url(#dots3)" stroke="#3a3a1a" stroke-width="0.6" stroke-linejoin="round"/>
<ellipse cx="785.9" cy="168.8" rx="2.4" ry="1.4" fill="#a9a9a0" stroke="#555" stroke-width="0.3" transform="rotate(-15 785.9 168.8)"/>
<ellipse cx="769.9" cy="168.8" rx="2.4" ry="1.4" fill="#a9a9a0" stroke="#555" stroke-width="0.3" transform="rotate(-15 769.9 168.8)"/>
<ellipse cx="757.9" cy="168.8" rx="2.4" ry="1.4" fill="#a9a9a0" stroke="#555" stroke-width="0.3" transform="rotate(-15 757.9 168.8)"/>
<path d="M749.3,171.4 L756,170 L764,172.8 L771,170.6 L778,171.4 C782,180.4 784.2,187.4 788.2,190.1 C792.7,194.6 795.9,198.8 792.4,203.8 C791.6,204 789.2,205.2 787.4,205 C785.6,204.8 783.6,203 781.4,202.3 C779.2,201.6 776.7,200.7 774.4,200.8 C772.1,200.9 769.6,202.2 767.4,202.8 C765.2,203.4 763.6,204.4 761.4,204.3 C759.2,204.2 756.4,202.3 754.4,202 C752.4,201.7 750.1,202.2 749.3,202.2 Z" fill="url(#dots3)" stroke="#3a3a1a" stroke-width="0.6" stroke-linejoin="round"/>
<ellipse cx="784.4" cy="200.2" rx="2.4" ry="1.4" fill="#a9a9a0" stroke="#555" stroke-width="0.3" transform="rotate(-15 784.4 200.2)"/>
<ellipse cx="768.4" cy="200.2" rx="2.4" ry="1.4" fill="#a9a9a0" stroke="#555" stroke-width="0.3" transform="rotate(-15 768.4 200.2)"/>
<ellipse cx="756.4" cy="200.2" rx="2.4" ry="1.4" fill="#a9a9a0" stroke="#555" stroke-width="0.3" transform="rotate(-15 756.4 200.2)"/>
<line x1="749.2" y1="121.9" x2="749.2" y2="213.9" stroke="#222" stroke-width="0.9"/>
<text x="802.8" y="131.5" font-size="12.4" text-anchor="middle" class="c" fill="#231f20" textLength="62.6" lengthAdjust="spacing" >块状切叠型</text>
<path d="M742.9,127.7 L744.2,129.2 L742.5,130.2 L743.7,131.7 L742.2,132.7 L743.6,134.3 L741.2,135 L742.5,136.5 L740,137.2 L742,138.9 L739.8,139.4 L739.5,141 L737.3,140.7 L737.1,142.4 L734.8,142 L734.6,143.7 L732.3,143.7 L732.9,145.3 L730.3,145.5 L731.6,147.5 L728.8,147.6 L730.2,149.7 L727.8,150 L728.3,151.7 L725.5,152 L727,154.1 L724.7,154.6 L724.7,156 L722.8,156.8 L723.3,158.2 L721.9,159 L722.2,160.4 L720.4,161.1 L721.9,162.8 L719,163.4 L720.5,164.9 L718.7,165.9 L720.6,167.3 L718.9,168.3 L720.4,169.8 L717.4,170.6 L719.2,172 L717.1,173.3 L719.3,174.7 L717.6,176 L720,177.4 L717.1,178.6 L718.9,180.1 L717.3,181.2 L718.7,182.8 L716.8,183.9 L717.7,185.4 L716.2,186.6 L717.7,188.1 L716.1,189.3 L717.2,190.7 L715.3,192 L716.4,193.4 L715.2,194.6 L716.8,196.2 L714.5,197.1 L715.2,198.6 L713,199.5 L715,201.4 L713.4,202.4" fill="none" stroke="#f2673c" stroke-width="0.75" stroke-linejoin="round"/>
<path d="M713.4,202.4 C714.8,202.5 719.3,202.5 722,203 C724.7,203.5 727.3,204.5 729.8,205.4 C732.3,206.3 735,207.4 737,208.6 C739,209.8 740.9,212.1 741.7,212.8" fill="none" stroke="#f15a29" stroke-width="0.8" />
</g>
<g id="msc1">
<path d="M533.3,63.5 L624,80.1 L624,97 L533.3,76.5Z" fill="#12a571" stroke="#2b2b2b" stroke-width="0.6" stroke-linejoin="round"/>
<path d="M624,80.1 L753.4,41.7 L753.4,55.7 L624,97Z" fill="#0e9a69" stroke="#2b2b2b" stroke-width="0.6" stroke-linejoin="round"/>
<path d="M533.3,63.5 L661,24.9 L753.4,41.7 L624,80.1Z" fill="url(#m1top)" stroke="#2b2b2b" stroke-width="0.6" stroke-linejoin="round"/>
<path d="M533.3,63.5 Q595.9,40.6 661,24.9 L753.4,41.7 L624,80.1Z" fill="url(#m1top)" stroke="#2b2b2b" stroke-width="0.6" stroke-linejoin="round"/>
<clipPath id="cp1"><path d="M533.3,63.5 Q595.9,40.6 661,24.9 L753.4,41.7 L624,80.1Z"/></clipPath>
<g clip-path="url(#cp1)">
<ellipse cx="641.5" cy="45.6" rx="44" ry="19" fill="url(#lake)" transform="rotate(-8 641.5 45.6)"/>
<path d="M608,42.6 C608.7,43.8 609,47.3 612,49.5 C615,51.7 621.3,54.5 626,56 C630.7,57.5 635.7,58.2 640,58.6 C644.3,59 648,59.1 652,58.6 C656,58.1 661.1,56.9 664,55.6 C666.9,54.3 668.6,52.5 669.4,50.8 C670.2,49.1 669.6,46.9 669,45.6 C668.4,44.3 667.7,44.1 666,43 C664.3,41.9 661.7,40.1 659,38.7 C656.3,37.3 651.5,35.3 650,34.6" fill="none" stroke="#1b5f8a" stroke-width="0.6" stroke-dasharray="2 1.6"/>
</g>
<path d="M553.8,66.9 C554.8,66.6 558,65.7 560,64.8 C562,63.9 564,63 565.8,61.7 C567.6,60.4 569.5,58.5 571,57 C572.5,55.5 574.1,53.5 574.7,52.8" fill="none" stroke="#3a3210" stroke-width="1.9" stroke-linecap="round" stroke-linejoin="round"/>
<path d="M556,67.8 C558,67.8 564,67.8 568,67.6 C572,67.4 576.5,67.4 579.7,66.7 C582.9,66 584.7,64.6 587,63.3 C589.3,62 591.8,60.2 593.6,58.7 C595.4,57.2 596.7,55.5 598,54 C599.3,52.5 600.3,51 601.5,49.8 C602.7,48.6 604.4,47.1 605,46.6" fill="none" stroke="#3a3210" stroke-width="1.9" stroke-linecap="round" stroke-linejoin="round"/>
<path d="M593.6,58.7 C594.8,58.4 598.4,57.1 601,56.6 C603.6,56.1 607.4,55.9 609.5,55.8 C611.6,55.7 612.8,55.8 613.5,55.8" fill="none" stroke="#3a3210" stroke-width="1.9" stroke-linecap="round" stroke-linejoin="round"/>
<path d="M579.7,66.7 C581.4,66.6 586.6,66.1 589.6,66.2 C592.6,66.3 595.4,66.8 598,67.2 C600.6,67.7 604.2,68.6 605.5,68.9" fill="none" stroke="#3a3210" stroke-width="1.9" stroke-linecap="round" stroke-linejoin="round"/>
<path d="M612.5,78 C613.3,77.5 616,76.2 617.5,75.2 C619,74.2 620.2,73.2 621.4,71.7 C622.6,70.2 623.6,68.2 624.6,66.5 C625.6,64.8 626.2,62.7 627.4,61.7 C628.6,60.8 631.1,60.9 631.8,60.8" fill="none" stroke="#3a3210" stroke-width="1.9" stroke-linecap="round" stroke-linejoin="round"/>
<path d="M624.6,66.5 C625.7,66.8 628.9,67.8 631,68 C633.1,68.2 635.7,68.2 637.3,67.6 C638.9,67 640,64.9 640.6,64.4" fill="none" stroke="#3a3210" stroke-width="1.9" stroke-linecap="round" stroke-linejoin="round"/>
<path d="M730.8,38.4 C729,38.3 723.8,37.8 720,37.6 C716.2,37.4 711.6,37.3 708.3,37.1 C705,36.9 702.7,36.7 700,36.6 C697.3,36.5 693.2,36.4 691.9,36.4" fill="none" stroke="#3a3210" stroke-width="1.9" stroke-linecap="round" stroke-linejoin="round"/>
<path d="M730.8,38.4 C730.6,38.8 730.2,39.9 729.6,40.6 C729,41.3 728.7,41.9 727.4,42.5 C726.1,43.1 723.8,43.7 722,44.2 C720.2,44.7 718.7,45 716.5,45.3 C714.3,45.6 711.5,45.7 709,45.8 C706.5,45.9 704.2,45.9 701.4,45.9 C698.6,45.9 695,45.7 692,45.6 C689,45.5 685.1,45.3 683.7,45.3" fill="none" stroke="#3a3210" stroke-width="1.9" stroke-linecap="round" stroke-linejoin="round"/>
<path d="M716.5,45.3 C715.8,45.6 713.4,46.3 712,47 C710.6,47.7 709.5,48.5 708.3,49.4 C707.1,50.3 705.8,51.6 704.6,52.6 C703.5,53.6 701.9,55 701.4,55.5" fill="none" stroke="#3a3210" stroke-width="1.9" stroke-linecap="round" stroke-linejoin="round"/>
<path d="M701.4,45.9 C700.8,46 698.7,46.2 697.6,46.4 C696.5,46.6 695.7,46.7 694.6,47.3 C693.5,47.9 692.1,49 691,49.8 C689.9,50.6 689.1,51.6 687.8,52.1 C686.5,52.6 684.6,52.8 683,53 C681.4,53.2 679,53.3 678.2,53.4" fill="none" stroke="#3a3210" stroke-width="1.9" stroke-linecap="round" stroke-linejoin="round"/>
<path d="M687.8,52.1 C687.5,52.6 686.7,54.4 686.2,55.4 C685.7,56.4 685.2,57.7 685,58.2" fill="none" stroke="#3a3210" stroke-width="1.9" stroke-linecap="round" stroke-linejoin="round"/>
<path d="M679.6,29.2 C679.4,29.7 679.1,31.4 678.6,32.4 C678.1,33.4 677.6,34.1 676.9,35 C676.2,35.9 675.4,37.1 674.6,38 C673.8,38.9 672.5,40.1 672.1,40.5" fill="none" stroke="#3a3210" stroke-width="1.9" stroke-linecap="round" stroke-linejoin="round"/>
<path d="M665.9,27.2 C665.4,27.7 663.9,29.1 663,30 C662.1,30.9 660.9,31.9 660.5,32.3" fill="none" stroke="#3a3210" stroke-width="1.9" stroke-linecap="round" stroke-linejoin="round"/>
<path d="M553.8,66.9 C554.8,66.6 558,65.7 560,64.8 C562,63.9 564,63 565.8,61.7 C567.6,60.4 569.5,58.5 571,57 C572.5,55.5 574.1,53.5 574.7,52.8" fill="none" stroke="#f2d81f" stroke-width="1.2" stroke-linecap="round" stroke-linejoin="round" stroke-dasharray="3.2 1.3"/><path d="M556,67.8 C558,67.8 564,67.8 568,67.6 C572,67.4 576.5,67.4 579.7,66.7 C582.9,66 584.7,64.6 587,63.3 C589.3,62 591.8,60.2 593.6,58.7 C595.4,57.2 596.7,55.5 598,54 C599.3,52.5 600.3,51 601.5,49.8 C602.7,48.6 604.4,47.1 605,46.6" fill="none" stroke="#f2d81f" stroke-width="1.2" stroke-linecap="round" stroke-linejoin="round" stroke-dasharray="3.2 1.3"/><path d="M593.6,58.7 C594.8,58.4 598.4,57.1 601,56.6 C603.6,56.1 607.4,55.9 609.5,55.8 C611.6,55.7 612.8,55.8 613.5,55.8" fill="none" stroke="#f2d81f" stroke-width="1.2" stroke-linecap="round" stroke-linejoin="round" stroke-dasharray="3.2 1.3"/><path d="M579.7,66.7 C581.4,66.6 586.6,66.1 589.6,66.2 C592.6,66.3 595.4,66.8 598,67.2 C600.6,67.7 604.2,68.6 605.5,68.9" fill="none" stroke="#f2d81f" stroke-width="1.2" stroke-linecap="round" stroke-linejoin="round" stroke-dasharray="3.2 1.3"/><path d="M612.5,78 C613.3,77.5 616,76.2 617.5,75.2 C619,74.2 620.2,73.2 621.4,71.7 C622.6,70.2 623.6,68.2 624.6,66.5 C625.6,64.8 626.2,62.7 627.4,61.7 C628.6,60.8 631.1,60.9 631.8,60.8" fill="none" stroke="#f2d81f" stroke-width="1.2" stroke-linecap="round" stroke-linejoin="round" stroke-dasharray="3.2 1.3"/><path d="M624.6,66.5 C625.7,66.8 628.9,67.8 631,68 C633.1,68.2 635.7,68.2 637.3,67.6 C638.9,67 640,64.9 640.6,64.4" fill="none" stroke="#f2d81f" stroke-width="1.2" stroke-linecap="round" stroke-linejoin="round" stroke-dasharray="3.2 1.3"/><path d="M730.8,38.4 C729,38.3 723.8,37.8 720,37.6 C716.2,37.4 711.6,37.3 708.3,37.1 C705,36.9 702.7,36.7 700,36.6 C697.3,36.5 693.2,36.4 691.9,36.4" fill="none" stroke="#f2d81f" stroke-width="1.2" stroke-linecap="round" stroke-linejoin="round" stroke-dasharray="3.2 1.3"/><path d="M730.8,38.4 C730.6,38.8 730.2,39.9 729.6,40.6 C729,41.3 728.7,41.9 727.4,42.5 C726.1,43.1 723.8,43.7 722,44.2 C720.2,44.7 718.7,45 716.5,45.3 C714.3,45.6 711.5,45.7 709,45.8 C706.5,45.9 704.2,45.9 701.4,45.9 C698.6,45.9 695,45.7 692,45.6 C689,45.5 685.1,45.3 683.7,45.3" fill="none" stroke="#f2d81f" stroke-width="1.2" stroke-linecap="round" stroke-linejoin="round" stroke-dasharray="3.2 1.3"/><path d="M716.5,45.3 C715.8,45.6 713.4,46.3 712,47 C710.6,47.7 709.5,48.5 708.3,49.4 C707.1,50.3 705.8,51.6 704.6,52.6 C703.5,53.6 701.9,55 701.4,55.5" fill="none" stroke="#f2d81f" stroke-width="1.2" stroke-linecap="round" stroke-linejoin="round" stroke-dasharray="3.2 1.3"/><path d="M701.4,45.9 C700.8,46 698.7,46.2 697.6,46.4 C696.5,46.6 695.7,46.7 694.6,47.3 C693.5,47.9 692.1,49 691,49.8 C689.9,50.6 689.1,51.6 687.8,52.1 C686.5,52.6 684.6,52.8 683,53 C681.4,53.2 679,53.3 678.2,53.4" fill="none" stroke="#f2d81f" stroke-width="1.2" stroke-linecap="round" stroke-linejoin="round" stroke-dasharray="3.2 1.3"/><path d="M687.8,52.1 C687.5,52.6 686.7,54.4 686.2,55.4 C685.7,56.4 685.2,57.7 685,58.2" fill="none" stroke="#f2d81f" stroke-width="1.2" stroke-linecap="round" stroke-linejoin="round" stroke-dasharray="3.2 1.3"/><path d="M679.6,29.2 C679.4,29.7 679.1,31.4 678.6,32.4 C678.1,33.4 677.6,34.1 676.9,35 C676.2,35.9 675.4,37.1 674.6,38 C673.8,38.9 672.5,40.1 672.1,40.5" fill="none" stroke="#f2d81f" stroke-width="1.2" stroke-linecap="round" stroke-linejoin="round" stroke-dasharray="3.2 1.3"/><path d="M665.9,27.2 C665.4,27.7 663.9,29.1 663,30 C662.1,30.9 660.9,31.9 660.5,32.3" fill="none" stroke="#f2d81f" stroke-width="1.2" stroke-linecap="round" stroke-linejoin="round" stroke-dasharray="3.2 1.3"/>
<path d="M611,45.6 C610.8,46.3 610.8,46.8 610.3,47.3 C609.8,47.9 608.9,49.1 608,49.1 C607.1,49.2 605.8,48.2 605,47.8 C604.2,47.4 603.6,47.1 603,46.5 C602.5,46 601.4,44.9 601.7,44.4 C602,43.8 604,43.6 605,43.4 C606,43.1 606.7,42.9 607.7,42.9 C608.8,42.9 610.8,42.8 611.3,43.3 C611.9,43.7 611.2,44.9 611,45.6Z" fill="#a6d4bf" stroke="#3f6a58" stroke-width="0.4" />
<path d="M618.9,55.6 C619.1,56.3 619.8,57.5 619.3,57.9 C618.8,58.4 616.8,58.4 615.8,58.3 C614.7,58.3 614,58 613,57.8 C612,57.5 610.1,57.4 609.7,56.8 C609.4,56.3 610.4,55.2 610.9,54.7 C611.5,54.1 612.2,53.9 613,53.4 C613.9,53 615.1,52 616,52.1 C616.9,52.1 617.8,53.2 618.3,53.8 C618.8,54.4 618.8,54.9 618.9,55.6Z" fill="#a6d4bf" stroke="#3f6a58" stroke-width="0.4" />
<path d="M614.2,69.6 C614.4,70.2 614.4,71.5 613.7,71.9 C613,72.3 611.2,71.9 610.1,71.9 C609.1,72 608.1,72.4 607.2,72.2 C606.2,72 604.5,71.4 604.3,70.8 C604.1,70.2 605.5,69.4 606,68.8 C606.5,68.2 606.4,67.5 607.2,67 C607.9,66.6 609.6,66 610.5,66.1 C611.3,66.3 611.7,67.5 612.4,68.1 C613,68.6 613.9,69 614.2,69.6Z" fill="#a6d4bf" stroke="#3f6a58" stroke-width="0.4" />
<path d="M637.4,60.4 C637.5,61.1 638.3,62.2 637.8,62.7 C637.3,63.2 635.4,63.3 634.4,63.3 C633.4,63.3 632.7,62.8 631.7,62.5 C630.7,62.2 628.8,62.1 628.4,61.6 C628,61.1 628.7,59.9 629.3,59.4 C629.8,58.8 630.8,58.7 631.7,58.3 C632.6,57.9 633.7,56.9 634.6,56.9 C635.5,56.9 636.6,57.9 637.1,58.5 C637.6,59.1 637.2,59.7 637.4,60.4Z" fill="#a6d4bf" stroke="#3f6a58" stroke-width="0.4" />
<path d="M647.5,64.6 C647.6,65.2 646.3,66.1 645.5,66.5 C644.7,66.9 643.7,66.8 642.7,67 C641.6,67.2 640.1,67.9 639.2,67.7 C638.4,67.4 637.8,66.2 637.7,65.6 C637.6,64.9 638.2,64.5 638.4,63.8 C638.7,63.1 638.5,61.9 639.2,61.5 C640,61.2 641.8,61.5 642.8,61.7 C643.7,62 644.1,62.6 644.9,63 C645.7,63.5 647.4,64 647.5,64.6Z" fill="#a6d4bf" stroke="#3f6a58" stroke-width="0.4" />
<path d="M630.1,77 C630,77.7 630.5,78.4 630.1,79 C629.6,79.5 628.3,80.4 627.3,80.4 C626.4,80.4 625.5,79.4 624.6,79 C623.7,78.6 622.4,78.6 621.9,78.1 C621.3,77.5 620.9,76.3 621.3,75.8 C621.8,75.3 623.6,75.3 624.6,75 C625.6,74.7 626.2,74 627.2,74 C628.2,73.9 630.1,74.3 630.5,74.8 C631,75.3 630.1,76.3 630.1,77Z" fill="#a6d4bf" stroke="#3f6a58" stroke-width="0.4" />
<path d="M661.4,33.7 C661.3,34.4 661.8,35.1 661.3,35.6 C660.8,36.2 659.6,37.1 658.7,37.2 C657.7,37.2 656.7,36.2 655.8,35.8 C655,35.4 653.8,35.3 653.3,34.7 C652.7,34.2 652.1,33 652.6,32.5 C653,32 654.8,31.9 655.8,31.6 C656.8,31.3 657.5,30.8 658.5,30.7 C659.5,30.7 661.4,31 661.9,31.4 C662.4,31.9 661.5,33 661.4,33.7Z" fill="#a6d4bf" stroke="#3f6a58" stroke-width="0.4" />
<path d="M674.3,41.2 C674.3,41.9 675.1,42.8 674.6,43.3 C674.2,43.8 672.5,44.5 671.6,44.5 C670.6,44.4 669.8,43.6 668.9,43.2 C667.9,42.8 666.4,42.8 665.9,42.3 C665.4,41.8 665.4,40.6 665.9,40.1 C666.4,39.6 667.9,39.5 668.9,39.2 C669.9,38.9 670.6,38 671.6,38 C672.5,38 674.2,38.5 674.7,39.1 C675.1,39.6 674.3,40.5 674.3,41.2Z" fill="#a6d4bf" stroke="#3f6a58" stroke-width="0.4" />
<path d="M692.5,36.7 C692.4,37.3 690.7,37.7 689.9,38.2 C689.2,38.7 688.8,39.5 687.9,39.7 C687,40 685.1,40.1 684.4,39.7 C683.7,39.3 683.9,38.2 683.6,37.5 C683.3,36.8 682.5,36.3 682.6,35.7 C682.7,35 683.5,33.9 684.4,33.7 C685.2,33.5 686.7,34.2 687.7,34.4 C688.8,34.6 690,34.4 690.8,34.7 C691.5,35.1 692.7,36.1 692.5,36.7Z" fill="#a6d4bf" stroke="#3f6a58" stroke-width="0.4" />
<path d="M683.8,44 C684.1,44.6 683.7,45.8 683,46.2 C682.2,46.6 680.6,46.2 679.5,46.3 C678.4,46.4 677.4,46.9 676.4,46.7 C675.5,46.6 674.1,45.7 673.9,45.2 C673.8,44.6 675.1,43.9 675.5,43.2 C675.9,42.6 675.7,41.7 676.4,41.3 C677.2,40.8 678.9,40.4 679.8,40.7 C680.7,40.9 681,41.9 681.7,42.5 C682.4,43.1 683.6,43.4 683.8,44Z" fill="#a6d4bf" stroke="#3f6a58" stroke-width="0.4" />
<path d="M677.9,55.2 C678.1,55.8 677.5,56.9 676.7,57.3 C676,57.7 674.5,57.4 673.4,57.5 C672.3,57.6 671.2,58.2 670.2,58 C669.3,57.8 668.1,56.9 668,56.3 C667.8,55.7 669,55.1 669.4,54.4 C669.8,53.7 669.5,52.8 670.2,52.4 C671,52 672.8,51.7 673.7,52 C674.6,52.2 674.9,53.2 675.6,53.7 C676.3,54.3 677.7,54.6 677.9,55.2Z" fill="#a6d4bf" stroke="#3f6a58" stroke-width="0.4" />
<path d="M686.4,59.9 C686.1,60.5 685.1,60.8 684.4,61.4 C683.8,62 683.4,63.1 682.5,63.3 C681.7,63.5 680,63 679.2,62.5 C678.5,62.1 678.6,61.3 678.1,60.7 C677.7,60.1 676.3,59.3 676.5,58.7 C676.7,58.1 678.3,57.5 679.2,57.3 C680.2,57.1 681.2,57.5 682.2,57.6 C683.3,57.6 685.1,57.3 685.8,57.7 C686.4,58.1 686.6,59.3 686.4,59.9Z" fill="#a6d4bf" stroke="#3f6a58" stroke-width="0.4" />
<path d="M701.8,56.6 C702,57.2 702.2,58.5 701.6,58.9 C700.9,59.3 699,59 698,59 C696.9,59 696,59.3 695.1,59.1 C694.1,58.9 692.3,58.4 692.1,57.8 C691.8,57.3 693.2,56.4 693.7,55.8 C694.2,55.1 694.3,54.6 695.1,54.1 C695.8,53.7 697.4,52.9 698.3,53.1 C699.1,53.2 699.6,54.4 700.2,55 C700.8,55.6 701.6,56 701.8,56.6Z" fill="#a6d4bf" stroke="#3f6a58" stroke-width="0.4" />
<line x1="545" y1="69.8" x2="558" y2="72.2" stroke="#12301f" stroke-width="0.8"/>
<line x1="566" y1="73.1" x2="576" y2="74.9" stroke="#12301f" stroke-width="0.8"/>
<line x1="587" y1="77.7" x2="599" y2="79.9" stroke="#12301f" stroke-width="0.8"/>
<line x1="606" y1="80.8" x2="615" y2="82.5" stroke="#12301f" stroke-width="0.8"/>
<line x1="552" y1="75.5" x2="561" y2="77.2" stroke="#12301f" stroke-width="0.8"/>
<line x1="574" y1="79.7" x2="586" y2="81.9" stroke="#12301f" stroke-width="0.8"/>
<line x1="596" y1="84.6" x2="609" y2="87" stroke="#12301f" stroke-width="0.8"/>
<line x1="612" y1="89.5" x2="621" y2="91.2" stroke="#12301f" stroke-width="0.8"/>
<line x1="560" y1="79.8" x2="567" y2="81.1" stroke="#12301f" stroke-width="0.8"/>
<line x1="634" y1="81.5" x2="644" y2="78.6" stroke="#0c2a1a" stroke-width="0.8"/>
<line x1="652" y1="75.8" x2="664" y2="72.2" stroke="#0c2a1a" stroke-width="0.8"/>
<line x1="672" y1="70.5" x2="682" y2="67.5" stroke="#0c2a1a" stroke-width="0.8"/>
<line x1="690" y1="64.5" x2="702" y2="61" stroke="#0c2a1a" stroke-width="0.8"/>
<line x1="710" y1="59" x2="720" y2="56" stroke="#0c2a1a" stroke-width="0.8"/>
<line x1="728" y1="53.4" x2="739" y2="50.2" stroke="#0c2a1a" stroke-width="0.8"/>
<line x1="640" y1="84.8" x2="652" y2="81.2" stroke="#0c2a1a" stroke-width="0.8"/>
<line x1="660" y1="78.4" x2="670" y2="75.4" stroke="#0c2a1a" stroke-width="0.8"/>
<line x1="680" y1="72.9" x2="692" y2="69.3" stroke="#0c2a1a" stroke-width="0.8"/>
<line x1="700" y1="66.5" x2="710" y2="63.6" stroke="#0c2a1a" stroke-width="0.8"/>
<line x1="720" y1="60.6" x2="732" y2="57.1" stroke="#0c2a1a" stroke-width="0.8"/>
<line x1="648" y1="86.4" x2="657" y2="83.7" stroke="#0c2a1a" stroke-width="0.8"/>
<line x1="668" y1="80" x2="679" y2="76.8" stroke="#0c2a1a" stroke-width="0.8"/>
<line x1="690" y1="73.1" x2="699" y2="70.4" stroke="#0c2a1a" stroke-width="0.8"/>
<text x="588" y="59.4" font-size="12" text-anchor="middle" class="i" fill="#f04e23" stroke="#f04e23" stroke-width="0.3">C</text>
<text x="599" y="73.8" font-size="12" text-anchor="middle" class="i" fill="#f04e23" stroke="#f04e23" stroke-width="0.3">C′</text>
</g>
<text x="707.6" y="29.8" font-size="12.9" text-anchor="middle" class="l" fill="#231f20">MSC1</text>
<line x1="730.2" y1="38" x2="756" y2="36.9" stroke="#8a8a8a" stroke-width="1.2"/>
<line x1="743.6" y1="44" x2="759" y2="42" stroke="#8a8a8a" stroke-width="1.2"/>
<path d="M765.6,36.5 L753,31.5 L756.6,37 L755.4,42Z" fill="#111" stroke="none" stroke-width="1" />
<path d="M768.4,40.6 L756,37.6 L759.4,42 L757,48.2Z" fill="#111" stroke="none" stroke-width="1" />
<g id="msc2">
<path d="M507,139.3 L597.4,157.1 L597.4,174 L507,155.2Z" fill="#f3b39c" stroke="#2b2b2b" stroke-width="0.6" stroke-linejoin="round"/>
<path d="M597.4,157.1 L726.8,119.8 L726.8,133.6 L597.4,174Z" fill="#f1b49e" stroke="#2b2b2b" stroke-width="0.6" stroke-linejoin="round"/>
<path d="M507,139.3 L640.4,102 L726.8,119.8 L597.4,157.1Z" fill="url(#m2top)" stroke="#2b2b2b" stroke-width="0.6" stroke-linejoin="round"/>
<clipPath id="cp2"><path d="M507,139.3 L640.4,102 L726.8,119.8 L597.4,157.1Z"/></clipPath>
<g clip-path="url(#cp2)">
<ellipse cx="592" cy="146" rx="50" ry="14" fill="url(#pinkr)" transform="rotate(8 592 146)"/>
<ellipse cx="615" cy="120" rx="45" ry="17" fill="url(#grn2)" transform="rotate(15 615 120)"/>
<path d="M572,122.3 C573.3,123 577,125.3 580,126.4 C583,127.5 586.5,128 589.8,129 C593.1,130 596.5,131.6 600,132.6 C603.5,133.6 606.9,135.1 610.6,135 C614.4,134.9 618,133.5 622.5,132 C627,130.5 633.5,127.8 637.4,126 C641.3,124.2 644,122.6 646,121 C648,119.4 649.8,117.7 649.3,116.4 C648.8,115.1 645.5,114.7 643.3,113.4 C641.1,112.1 638,110 636,108.6 C634,107.2 632.2,105.8 631.4,105.2" fill="none" stroke="#ef4a2e" stroke-width="0.7" stroke-dasharray="2.2 1.8"/>
<path d="M533.7,133 C533.8,133.7 533.9,135.6 534.2,137 C534.6,138.4 534.5,140.8 535.8,141.4 C537.1,142 540.6,141.4 542.2,140.3 C543.8,139.2 544.5,136.8 545.4,135 C546.3,133.2 547.1,130.7 547.4,129.8" fill="none" stroke="#5a5412" stroke-width="3.6" stroke-linecap="round" stroke-linejoin="round"/>
<path d="M568.5,150.6 C568.3,150.1 567.8,149.6 567.4,147.6 C567,145.6 566.6,141.1 566,138.7 C565.4,136.3 564.3,135.2 563.5,133 C562.7,130.8 561.6,127 561.2,125.8" fill="none" stroke="#5a5412" stroke-width="3.8" stroke-linecap="round" stroke-linejoin="round"/>
<path d="M566.4,140.2 C567.3,140.3 570.1,141 572,141 C573.9,141 576.6,140.9 577.9,140.2 C579.2,139.5 579.2,138.1 579.6,137 C580,135.9 579.5,134.7 580,133.5 C580.5,132.3 581.9,130.4 582.3,129.8" fill="none" stroke="#5a5412" stroke-width="3.8" stroke-linecap="round" stroke-linejoin="round"/>
<path d="M581.6,121 C581.6,121.8 581.5,124.5 581.6,126 C581.7,127.5 581.9,128.7 582.3,129.8 C582.7,130.9 583.2,131.8 584,132.4 C584.8,133 585.3,133.6 586.8,133.5 C588.3,133.4 591,132.6 593,132 C595,131.4 597.8,130.2 598.7,129.8" fill="none" stroke="#5a5412" stroke-width="3.8" stroke-linecap="round" stroke-linejoin="round"/>
<path d="M595.7,115.6 C595.7,116.5 595.7,119.4 595.8,121 C595.9,122.6 596,123.8 596.5,125.3 C597,126.8 598,128.6 598.7,129.8 C599.4,131 599.9,131.7 600.6,132.6 C601.4,133.5 602.3,134.2 603.2,135 C604.1,135.8 605,136.9 606,137.6 C607,138.3 608.6,139.1 609.1,139.4" fill="none" stroke="#5a5412" stroke-width="3.8" stroke-linecap="round" stroke-linejoin="round"/>
<path d="M609.1,139.4 C610,139.2 612.8,138.9 614.5,138.4 C616.2,137.9 617.9,137.2 619.5,136.5 C621.1,135.8 622.5,134.8 624,134 C625.5,133.2 626.5,132.4 628.5,132 C630.5,131.6 633.5,131.6 636,131.6 C638.5,131.6 640.8,132.1 643.3,132 C645.8,131.9 648.5,131.5 651,131 C653.5,130.5 656.1,129.9 658.2,129 C660.3,128.1 662.9,126 663.8,125.4" fill="none" stroke="#5a5412" stroke-width="4.2" stroke-linecap="round" stroke-linejoin="round"/>
<path d="M628.5,132 C627.8,131.6 625.5,130.5 624,129.6 C622.5,128.7 620.7,127.8 619.5,126.8 C618.3,125.8 617.8,124.6 617,123.6 C616.2,122.6 616.2,121.8 615,120.8 C613.8,119.8 611.6,118.4 609.6,117.4 C607.6,116.4 604.3,115.3 603.2,114.9" fill="none" stroke="#5a5412" stroke-width="2.9" stroke-linecap="round" stroke-linejoin="round"/>
<path d="M609.1,112.6 C610.6,112.5 615,111.8 618,111.8 C621,111.8 624.6,112 627,112.6 C629.4,113.2 630.9,114.5 632.6,115.6 C634.3,116.7 635.6,118.2 637.4,119.3 C639.2,120.4 641.4,121.3 643.4,122.2 C645.4,123.1 647.2,123.9 649.3,124.6 C651.4,125.3 653.6,126.5 656,126.6 C658.4,126.7 662.5,125.6 663.8,125.4" fill="none" stroke="#5a5412" stroke-width="3.4" stroke-linecap="round" stroke-linejoin="round"/>
<path d="M640.4,103.6 C640.8,104.3 641.6,106.6 642.6,108 C643.6,109.4 644.6,111 646.3,111.9 C648,112.8 650.7,113 653,113.2 C655.3,113.5 658.8,113.4 660,113.4" fill="none" stroke="#5a5412" stroke-width="3.4" stroke-linecap="round" stroke-linejoin="round"/>
<path d="M609.1,139.4 C608.9,139.7 608,140.8 607.8,141.4 C607.5,142 607.3,142.5 607.6,143.2 C607.9,143.9 608.7,144.9 609.4,145.6 C610.1,146.3 610.7,146.9 612,147.6 C613.3,148.3 615.2,148.9 617,149.6 C618.8,150.3 621.6,151.3 622.5,151.6" fill="none" stroke="#5a5412" stroke-width="4.0" stroke-linecap="round" stroke-linejoin="round"/>
<path d="M607.6,143.2 C606.6,143.4 603.3,144.4 601.7,144.6 C600.1,144.8 598.6,144.6 598,144.6" fill="none" stroke="#5a5412" stroke-width="2.8" stroke-linecap="round" stroke-linejoin="round"/>
<path d="M663.8,125.4 C665,124.8 668.5,122.8 671,121.6 C673.5,120.4 676.8,119.3 678.6,118.2 C680.4,117.1 680.9,116.2 681.6,115 C682.3,113.8 682.6,111.5 682.8,110.8" fill="none" stroke="#5a5412" stroke-width="4.2" stroke-linecap="round" stroke-linejoin="round"/>
<path d="M678.6,118.2 C679.8,118 683.4,117.5 686,117 C688.6,116.5 691.2,115.8 694,115.4 C696.8,115 701.1,114.6 702.5,114.4" fill="none" stroke="#5a5412" stroke-width="3.8" stroke-linecap="round" stroke-linejoin="round"/>
<path d="M663.8,125.4 C664.7,125.7 667.2,126.7 669,127 C670.8,127.3 672.1,127.1 674.3,127.4 C676.5,127.7 679.4,128.4 682,129 C684.6,129.6 688.7,130.7 690,131" fill="none" stroke="#5a5412" stroke-width="4.2" stroke-linecap="round" stroke-linejoin="round"/>
<path d="M662.7,117.4 C662.8,118.1 663.2,120.1 663.4,121.4 C663.6,122.7 663.7,124.7 663.8,125.4" fill="none" stroke="#5a5412" stroke-width="2.8" stroke-linecap="round" stroke-linejoin="round"/>
<path d="M663.8,125.4 C662.8,125.1 660,124.2 658,123.4 C656,122.6 653.7,121.7 652,120.6 C650.3,119.5 648.6,118.5 647.6,117 C646.6,115.5 646.5,112.8 646.3,111.9" fill="none" stroke="#5a5412" stroke-width="3.4" stroke-linecap="round" stroke-linejoin="round"/>
<path d="M533.7,133 C533.8,133.7 533.9,135.6 534.2,137 C534.6,138.4 534.5,140.8 535.8,141.4 C537.1,142 540.6,141.4 542.2,140.3 C543.8,139.2 544.5,136.8 545.4,135 C546.3,133.2 547.1,130.7 547.4,129.8" fill="none" stroke="#fff200" stroke-width="2.7" stroke-linecap="round" stroke-linejoin="round"/><path d="M568.5,150.6 C568.3,150.1 567.8,149.6 567.4,147.6 C567,145.6 566.6,141.1 566,138.7 C565.4,136.3 564.3,135.2 563.5,133 C562.7,130.8 561.6,127 561.2,125.8" fill="none" stroke="#fff200" stroke-width="2.9" stroke-linecap="round" stroke-linejoin="round"/><path d="M566.4,140.2 C567.3,140.3 570.1,141 572,141 C573.9,141 576.6,140.9 577.9,140.2 C579.2,139.5 579.2,138.1 579.6,137 C580,135.9 579.5,134.7 580,133.5 C580.5,132.3 581.9,130.4 582.3,129.8" fill="none" stroke="#fff200" stroke-width="2.9" stroke-linecap="round" stroke-linejoin="round"/><path d="M581.6,121 C581.6,121.8 581.5,124.5 581.6,126 C581.7,127.5 581.9,128.7 582.3,129.8 C582.7,130.9 583.2,131.8 584,132.4 C584.8,133 585.3,133.6 586.8,133.5 C588.3,133.4 591,132.6 593,132 C595,131.4 597.8,130.2 598.7,129.8" fill="none" stroke="#fff200" stroke-width="2.9" stroke-linecap="round" stroke-linejoin="round"/><path d="M595.7,115.6 C595.7,116.5 595.7,119.4 595.8,121 C595.9,122.6 596,123.8 596.5,125.3 C597,126.8 598,128.6 598.7,129.8 C599.4,131 599.9,131.7 600.6,132.6 C601.4,133.5 602.3,134.2 603.2,135 C604.1,135.8 605,136.9 606,137.6 C607,138.3 608.6,139.1 609.1,139.4" fill="none" stroke="#fff200" stroke-width="2.9" stroke-linecap="round" stroke-linejoin="round"/><path d="M609.1,139.4 C610,139.2 612.8,138.9 614.5,138.4 C616.2,137.9 617.9,137.2 619.5,136.5 C621.1,135.8 622.5,134.8 624,134 C625.5,133.2 626.5,132.4 628.5,132 C630.5,131.6 633.5,131.6 636,131.6 C638.5,131.6 640.8,132.1 643.3,132 C645.8,131.9 648.5,131.5 651,131 C653.5,130.5 656.1,129.9 658.2,129 C660.3,128.1 662.9,126 663.8,125.4" fill="none" stroke="#fff200" stroke-width="3.3" stroke-linecap="round" stroke-linejoin="round"/><path d="M628.5,132 C627.8,131.6 625.5,130.5 624,129.6 C622.5,128.7 620.7,127.8 619.5,126.8 C618.3,125.8 617.8,124.6 617,123.6 C616.2,122.6 616.2,121.8 615,120.8 C613.8,119.8 611.6,118.4 609.6,117.4 C607.6,116.4 604.3,115.3 603.2,114.9" fill="none" stroke="#fff200" stroke-width="2.0" stroke-linecap="round" stroke-linejoin="round"/><path d="M609.1,112.6 C610.6,112.5 615,111.8 618,111.8 C621,111.8 624.6,112 627,112.6 C629.4,113.2 630.9,114.5 632.6,115.6 C634.3,116.7 635.6,118.2 637.4,119.3 C639.2,120.4 641.4,121.3 643.4,122.2 C645.4,123.1 647.2,123.9 649.3,124.6 C651.4,125.3 653.6,126.5 656,126.6 C658.4,126.7 662.5,125.6 663.8,125.4" fill="none" stroke="#fff200" stroke-width="2.5" stroke-linecap="round" stroke-linejoin="round"/><path d="M640.4,103.6 C640.8,104.3 641.6,106.6 642.6,108 C643.6,109.4 644.6,111 646.3,111.9 C648,112.8 650.7,113 653,113.2 C655.3,113.5 658.8,113.4 660,113.4" fill="none" stroke="#fff200" stroke-width="2.5" stroke-linecap="round" stroke-linejoin="round"/><path d="M609.1,139.4 C608.9,139.7 608,140.8 607.8,141.4 C607.5,142 607.3,142.5 607.6,143.2 C607.9,143.9 608.7,144.9 609.4,145.6 C610.1,146.3 610.7,146.9 612,147.6 C613.3,148.3 615.2,148.9 617,149.6 C618.8,150.3 621.6,151.3 622.5,151.6" fill="none" stroke="#fff200" stroke-width="3.1" stroke-linecap="round" stroke-linejoin="round"/><path d="M607.6,143.2 C606.6,143.4 603.3,144.4 601.7,144.6 C600.1,144.8 598.6,144.6 598,144.6" fill="none" stroke="#fff200" stroke-width="1.9" stroke-linecap="round" stroke-linejoin="round"/><path d="M663.8,125.4 C665,124.8 668.5,122.8 671,121.6 C673.5,120.4 676.8,119.3 678.6,118.2 C680.4,117.1 680.9,116.2 681.6,115 C682.3,113.8 682.6,111.5 682.8,110.8" fill="none" stroke="#fff200" stroke-width="3.3" stroke-linecap="round" stroke-linejoin="round"/><path d="M678.6,118.2 C679.8,118 683.4,117.5 686,117 C688.6,116.5 691.2,115.8 694,115.4 C696.8,115 701.1,114.6 702.5,114.4" fill="none" stroke="#fff200" stroke-width="2.9" stroke-linecap="round" stroke-linejoin="round"/><path d="M663.8,125.4 C664.7,125.7 667.2,126.7 669,127 C670.8,127.3 672.1,127.1 674.3,127.4 C676.5,127.7 679.4,128.4 682,129 C684.6,129.6 688.7,130.7 690,131" fill="none" stroke="#fff200" stroke-width="3.3" stroke-linecap="round" stroke-linejoin="round"/><path d="M662.7,117.4 C662.8,118.1 663.2,120.1 663.4,121.4 C663.6,122.7 663.7,124.7 663.8,125.4" fill="none" stroke="#fff200" stroke-width="1.9" stroke-linecap="round" stroke-linejoin="round"/><path d="M663.8,125.4 C662.8,125.1 660,124.2 658,123.4 C656,122.6 653.7,121.7 652,120.6 C650.3,119.5 648.6,118.5 647.6,117 C646.6,115.5 646.5,112.8 646.3,111.9" fill="none" stroke="#fff200" stroke-width="2.5" stroke-linecap="round" stroke-linejoin="round"/>
<path d="M657,125.8 C657.3,124.9 660.2,123.1 662,122.6 C663.8,122.1 666.4,122.4 668,123 C669.6,123.6 671.8,125.1 671.6,126 C671.4,126.9 668.9,128.1 667,128.4 C665.1,128.7 661.7,128.2 660,127.8 C658.3,127.4 656.7,126.7 657,125.8Z" fill="#fff200" stroke="none" stroke-width="1" />
<path d="M560.7,134 C560.5,134.6 559.4,134.9 558.7,135.5 C558.1,136.1 557.7,137.2 556.8,137.4 C556,137.6 554.2,137.1 553.5,136.7 C552.8,136.2 552.9,135.4 552.4,134.8 C552,134.2 550.6,133.4 550.8,132.8 C551,132.2 552.6,131.5 553.5,131.3 C554.5,131.2 555.4,131.6 556.5,131.7 C557.6,131.8 559.4,131.4 560,131.8 C560.7,132.2 560.9,133.4 560.7,134Z" fill="#f2898b" stroke="#b5484d" stroke-width="0.4" />
<path d="M579.5,128.6 C579.3,129.2 578.4,129.6 577.8,130.1 C577.1,130.7 576.7,131.9 575.9,132.1 C575,132.2 573.3,131.6 572.6,131.2 C571.8,130.7 571.9,130 571.4,129.4 C570.9,128.8 569.5,128 569.7,127.4 C569.9,126.8 571.6,126.2 572.6,126 C573.6,125.8 574.5,126.2 575.5,126.2 C576.6,126.3 578.4,125.9 579.1,126.3 C579.8,126.7 579.8,128 579.5,128.6Z" fill="#f2898b" stroke="#b5484d" stroke-width="0.4" />
<path d="M599.8,144.6 C600,145.3 600.8,146.4 600.3,146.9 C599.8,147.4 597.8,147.5 596.8,147.4 C595.7,147.4 595.1,147 594.1,146.7 C593.1,146.5 591.1,146.3 590.8,145.8 C590.4,145.3 591.2,144.2 591.8,143.6 C592.3,143.1 593.2,142.9 594.1,142.5 C594.9,142.1 596.1,141 597,141.1 C597.9,141.1 599,142.2 599.4,142.8 C599.9,143.3 599.7,143.9 599.8,144.6Z" fill="#f2898b" stroke="#b5484d" stroke-width="0.4" />
<path d="M667.5,115.6 C667.3,116.2 666.2,116.5 665.5,117.1 C664.9,117.7 664.5,118.8 663.6,119 C662.8,119.2 661,118.7 660.3,118.3 C659.6,117.8 659.7,117 659.3,116.4 C658.8,115.8 657.4,115 657.6,114.4 C657.8,113.8 659.3,113.1 660.3,112.9 C661.3,112.7 662.2,113.2 663.3,113.3 C664.4,113.4 666.1,113 666.8,113.4 C667.5,113.8 667.7,115 667.5,115.6Z" fill="#f2898b" stroke="#b5484d" stroke-width="0.4" />
</g>
<g transform="translate(521,146.7) rotate(11.1)"><path d="M-8.5,-0 Q0,-0.8 8.5,-0 Q1,3.2 -8.5,-0Z" fill="#e7dc2c" stroke="#2e2b10" stroke-width="0.5"/></g>
<g transform="translate(540,152.2) rotate(11.1)"><path d="M-8.5,-0 Q0,-0.8 8.5,-0 Q1,3.2 -8.5,-0Z" fill="#e7dc2c" stroke="#2e2b10" stroke-width="0.5"/></g>
<g transform="translate(549.5,156.9) rotate(11.1)"><path d="M-8.5,-0 Q0,-0.8 8.5,-0 Q1,3.2 -8.5,-0Z" fill="#e7dc2c" stroke="#2e2b10" stroke-width="0.5"/></g>
<g transform="translate(569.6,157.2) rotate(11.1)"><path d="M-8.5,-0 Q0,-0.8 8.5,-0 Q1,3.2 -8.5,-0Z" fill="#e7dc2c" stroke="#2e2b10" stroke-width="0.5"/></g>
<g transform="translate(574.5,163.2) rotate(11.1)"><path d="M-8.5,-0 Q0,-0.8 8.5,-0 Q1,3.2 -8.5,-0Z" fill="#e7dc2c" stroke="#2e2b10" stroke-width="0.5"/></g>
<g transform="translate(586,166.1) rotate(11.1)"><path d="M-8.5,-0 Q0,-0.8 8.5,-0 Q1,3.2 -8.5,-0Z" fill="#e7dc2c" stroke="#2e2b10" stroke-width="0.5"/></g>
<g transform="translate(612,157.9) rotate(-16.1)"><path d="M-8.5,-0 Q0,-0.8 8.5,-0 Q1,3 -8.5,-0Z" fill="#e7dc2c" stroke="#2e2b10" stroke-width="0.5"/></g>
<g transform="translate(628,157.9) rotate(-16.1)"><path d="M-8.5,-0 Q0,-0.8 8.5,-0 Q1,3 -8.5,-0Z" fill="#e7dc2c" stroke="#2e2b10" stroke-width="0.5"/></g>
<g transform="translate(641,149.3) rotate(-16.1)"><path d="M-8.5,-0 Q0,-0.8 8.5,-0 Q1,3 -8.5,-0Z" fill="#e7dc2c" stroke="#2e2b10" stroke-width="0.5"/></g>
<g transform="translate(655,150.1) rotate(-16.1)"><path d="M-8.5,-0 Q0,-0.8 8.5,-0 Q1,3 -8.5,-0Z" fill="#e7dc2c" stroke="#2e2b10" stroke-width="0.5"/></g>
<g transform="translate(668,141.7) rotate(-16.1)"><path d="M-8.5,-0 Q0,-0.8 8.5,-0 Q1,3 -8.5,-0Z" fill="#e7dc2c" stroke="#2e2b10" stroke-width="0.5"/></g>
<g transform="translate(683,140.8) rotate(-16.1)"><path d="M-8.5,-0 Q0,-0.8 8.5,-0 Q1,3 -8.5,-0Z" fill="#e7dc2c" stroke="#2e2b10" stroke-width="0.5"/></g>
<g transform="translate(698,133.1) rotate(-16.1)"><path d="M-8.5,-0 Q0,-0.8 8.5,-0 Q1,3 -8.5,-0Z" fill="#e7dc2c" stroke="#2e2b10" stroke-width="0.5"/></g>
<g transform="translate(711,131.8) rotate(-16.1)"><path d="M-8.5,-0 Q0,-0.8 8.5,-0 Q1,3 -8.5,-0Z" fill="#e7dc2c" stroke="#2e2b10" stroke-width="0.5"/></g>
<text x="555.6" y="147.2" font-size="13" text-anchor="middle" class="i" fill="#f15a3a" transform="rotate(-24 555.6 143)">B</text>
<text x="574" y="140.2" font-size="13" text-anchor="middle" class="i" fill="#f15a3a" transform="rotate(-24 574 136)">B′</text>
</g>
<text x="677" y="105.3" font-size="12.9" text-anchor="middle" class="l" fill="#231f20">MSC2</text>
<g id="msc3">
<path d="M459.1,216.7 L549.3,235 L549.3,251.2 L459.1,231.7Z" fill="#f3b39c" stroke="#2b2b2b" stroke-width="0.6" stroke-linejoin="round"/>
<path d="M549.3,235 L679,196.3 L679,210.3 L549.3,251.2Z" fill="#f1b49e" stroke="#2b2b2b" stroke-width="0.6" stroke-linejoin="round"/>
<path d="M459.1,216.7 L585.1,179.1 L679,196.3 L549.3,235Z" fill="url(#m3top)" stroke="#2b2b2b" stroke-width="0.6" stroke-linejoin="round"/>
<clipPath id="cp3"><path d="M459.1,216.7 L585.1,179.1 L679,196.3 L549.3,235Z"/></clipPath>
<g clip-path="url(#cp3)">
<ellipse cx="550" cy="221" rx="52" ry="17" fill="url(#pinkr)" transform="rotate(6 550 221)"/>
<path d="M486.6,209.4 C486.6,210.3 486.5,213.3 486.6,215 C486.7,216.7 485.8,219.1 487.2,219.8 C488.6,220.5 493.2,220.1 495,219 C496.8,217.9 497.3,215 498.2,213 C499.1,211 499.9,208 500.3,207" fill="none" stroke="#5a5412" stroke-width="2.9" stroke-linecap="round" stroke-linejoin="round"/>
<path d="M514,202.8 C514.2,203.7 514.9,206.4 515.4,208 C515.9,209.6 516.4,210.4 517.2,212.2 C518,214 519.3,216.6 520,219 C520.7,221.4 521.3,225.2 521.6,226.4" fill="none" stroke="#5a5412" stroke-width="3.1" stroke-linecap="round" stroke-linejoin="round"/>
<path d="M521,222.6 C521.8,222.2 524.4,220.9 526,220 C527.6,219.1 529.6,218.6 530.9,217.4 C532.2,216.2 532.9,214.4 533.6,213 C534.3,211.6 534.9,210.7 535.1,209 C535.3,207.3 534.8,204.9 534.6,203 C534.4,201.1 534.1,198.5 534,197.6" fill="none" stroke="#5a5412" stroke-width="2.9" stroke-linecap="round" stroke-linejoin="round"/>
<path d="M535.1,209 C535.9,208.9 538.2,208.6 540,208.4 C541.8,208.2 543.7,208.2 545.7,208 C547.7,207.8 549.9,207.4 552,207 C554.1,206.6 557.1,207.3 558.3,205.8 C559.5,204.3 559,200.4 559.2,198 C559.4,195.6 559.4,192.3 559.4,191.2" fill="none" stroke="#5a5412" stroke-width="2.9" stroke-linecap="round" stroke-linejoin="round"/>
<path d="M540.4,231.4 C541,231.1 542.8,230 544,229.4 C545.2,228.8 546.3,228.4 547.8,228 C549.3,227.6 551.2,227.5 553,227.2 C554.8,226.8 557,226.8 558.3,225.9 C559.6,225 560.3,223 561,221.6 C561.7,220.2 562,218.7 562.5,217.4 C563,216.1 563.3,214.1 563.9,213.6 C564.5,213.1 565.7,214.2 566.1,214.3" fill="none" stroke="#5a5412" stroke-width="3.3" stroke-linecap="round" stroke-linejoin="round"/>
<path d="M557.6,191.2 C557.8,192 558.2,194.3 558.6,196 C559,197.7 559.4,200 559.8,201.6 C560.2,203.2 560.5,204.2 561,205.4 C561.5,206.6 562,207.5 562.9,209 C563.8,210.5 565.6,213.4 566.1,214.3" fill="none" stroke="#5a5412" stroke-width="2.9" stroke-linecap="round" stroke-linejoin="round"/>
<path d="M566.1,214.3 C566.9,213.9 569.2,212.3 571,211.6 C572.8,210.9 574.8,210.4 576.6,210 C578.4,209.6 580.2,209.6 582,209.4 C583.8,209.2 585.4,208.9 587.2,209 C589,209.1 590.9,209.6 592.6,209.8 C594.4,210 595.8,210.3 597.7,210 C599.6,209.7 602.1,208.9 604.2,208.2 C606.3,207.5 608.5,206.3 610.4,205.8 C612.3,205.3 613.9,205.2 615.6,205 C617.4,204.8 619.2,204.9 620.9,204.6 C622.6,204.3 624.2,203.9 625.6,203.4 C627,202.9 628.1,202.4 629.3,201.6 C630.5,200.8 631.7,199.6 632.6,198.6 C633.5,197.6 634.2,196.4 634.6,195.3 C635,194.2 634.8,193.1 634.8,192 C634.8,190.9 634.6,189.5 634.6,189" fill="none" stroke="#5a5412" stroke-width="3.1" stroke-linecap="round" stroke-linejoin="round"/>
<path d="M576.6,182.2 C576.8,182.8 577.3,184.7 577.8,186 C578.3,187.3 578.9,188.8 579.8,190 C580.7,191.2 582,192.1 583,193 C584,193.9 585.3,194.2 586.1,195.3 C586.9,196.4 587.2,198.2 587.6,199.6 C588,201 588.3,202.1 588.2,203.7 C588.1,205.3 587.4,208.1 587.2,209" fill="none" stroke="#5a5412" stroke-width="2.9" stroke-linecap="round" stroke-linejoin="round"/>
<path d="M597.7,181.4 C597.8,182.2 597.8,184.4 598,186 C598.2,187.6 598.3,189.5 598.8,191.1 C599.3,192.7 600.1,194 601,195.4 C601.9,196.8 603,198.2 604,199.5 C605,200.8 605.9,201.9 607,203 C608.1,204.1 609.8,205.3 610.4,205.8" fill="none" stroke="#5a5412" stroke-width="2.9" stroke-linecap="round" stroke-linejoin="round"/>
<path d="M634.6,195.3 C635.5,195.2 638.1,194.8 640,194.6 C641.9,194.4 645.2,194.3 646.2,194.2" fill="none" stroke="#5a5412" stroke-width="2.4" stroke-linecap="round" stroke-linejoin="round"/>
<path d="M629.3,201.6 C629.1,202.2 628.4,204.2 628,205.4 C627.6,206.6 627.7,207.8 627.2,209 C626.7,210.2 625.5,212 625.1,212.6" fill="none" stroke="#5a5412" stroke-width="2.7" stroke-linecap="round" stroke-linejoin="round"/>
<path d="M597.7,210 C597.6,210.5 597.2,212.1 597,213 C596.8,213.9 597,214.5 596.7,215.3 C596.4,216.1 595.5,217.1 595,218 C594.5,218.9 593.8,220.5 593.5,221" fill="none" stroke="#5a5412" stroke-width="2.7" stroke-linecap="round" stroke-linejoin="round"/>
<path d="M562,203 C562.5,202.5 564,200.9 565,200 C566,199.1 567.7,198 568.2,197.6" fill="none" stroke="#5a5412" stroke-width="2.2" stroke-linecap="round" stroke-linejoin="round"/>
<path d="M527.8,209 C528.3,209.7 530,212.3 531,213 C532,213.7 533.2,213 533.6,213" fill="none" stroke="#5a5412" stroke-width="2.1" stroke-linecap="round" stroke-linejoin="round"/>
<path d="M508.8,214.6 C509.5,214.6 511.6,215 513,214.6 C514.4,214.2 516.5,212.6 517.2,212.2" fill="none" stroke="#5a5412" stroke-width="2.1" stroke-linecap="round" stroke-linejoin="round"/>
<path d="M545.7,221 C545.9,221.7 546.2,223.8 546.6,225 C547,226.2 547.6,227.5 547.8,228" fill="none" stroke="#5a5412" stroke-width="2.1" stroke-linecap="round" stroke-linejoin="round"/>
<path d="M486.6,209.4 C486.6,210.3 486.5,213.3 486.6,215 C486.7,216.7 485.8,219.1 487.2,219.8 C488.6,220.5 493.2,220.1 495,219 C496.8,217.9 497.3,215 498.2,213 C499.1,211 499.9,208 500.3,207" fill="none" stroke="#fff200" stroke-width="2.0" stroke-linecap="round" stroke-linejoin="round"/><path d="M514,202.8 C514.2,203.7 514.9,206.4 515.4,208 C515.9,209.6 516.4,210.4 517.2,212.2 C518,214 519.3,216.6 520,219 C520.7,221.4 521.3,225.2 521.6,226.4" fill="none" stroke="#fff200" stroke-width="2.2" stroke-linecap="round" stroke-linejoin="round"/><path d="M521,222.6 C521.8,222.2 524.4,220.9 526,220 C527.6,219.1 529.6,218.6 530.9,217.4 C532.2,216.2 532.9,214.4 533.6,213 C534.3,211.6 534.9,210.7 535.1,209 C535.3,207.3 534.8,204.9 534.6,203 C534.4,201.1 534.1,198.5 534,197.6" fill="none" stroke="#fff200" stroke-width="2.0" stroke-linecap="round" stroke-linejoin="round"/><path d="M535.1,209 C535.9,208.9 538.2,208.6 540,208.4 C541.8,208.2 543.7,208.2 545.7,208 C547.7,207.8 549.9,207.4 552,207 C554.1,206.6 557.1,207.3 558.3,205.8 C559.5,204.3 559,200.4 559.2,198 C559.4,195.6 559.4,192.3 559.4,191.2" fill="none" stroke="#fff200" stroke-width="2.0" stroke-linecap="round" stroke-linejoin="round"/><path d="M540.4,231.4 C541,231.1 542.8,230 544,229.4 C545.2,228.8 546.3,228.4 547.8,228 C549.3,227.6 551.2,227.5 553,227.2 C554.8,226.8 557,226.8 558.3,225.9 C559.6,225 560.3,223 561,221.6 C561.7,220.2 562,218.7 562.5,217.4 C563,216.1 563.3,214.1 563.9,213.6 C564.5,213.1 565.7,214.2 566.1,214.3" fill="none" stroke="#fff200" stroke-width="2.4" stroke-linecap="round" stroke-linejoin="round"/><path d="M557.6,191.2 C557.8,192 558.2,194.3 558.6,196 C559,197.7 559.4,200 559.8,201.6 C560.2,203.2 560.5,204.2 561,205.4 C561.5,206.6 562,207.5 562.9,209 C563.8,210.5 565.6,213.4 566.1,214.3" fill="none" stroke="#fff200" stroke-width="2.0" stroke-linecap="round" stroke-linejoin="round"/><path d="M566.1,214.3 C566.9,213.9 569.2,212.3 571,211.6 C572.8,210.9 574.8,210.4 576.6,210 C578.4,209.6 580.2,209.6 582,209.4 C583.8,209.2 585.4,208.9 587.2,209 C589,209.1 590.9,209.6 592.6,209.8 C594.4,210 595.8,210.3 597.7,210 C599.6,209.7 602.1,208.9 604.2,208.2 C606.3,207.5 608.5,206.3 610.4,205.8 C612.3,205.3 613.9,205.2 615.6,205 C617.4,204.8 619.2,204.9 620.9,204.6 C622.6,204.3 624.2,203.9 625.6,203.4 C627,202.9 628.1,202.4 629.3,201.6 C630.5,200.8 631.7,199.6 632.6,198.6 C633.5,197.6 634.2,196.4 634.6,195.3 C635,194.2 634.8,193.1 634.8,192 C634.8,190.9 634.6,189.5 634.6,189" fill="none" stroke="#fff200" stroke-width="2.2" stroke-linecap="round" stroke-linejoin="round"/><path d="M576.6,182.2 C576.8,182.8 577.3,184.7 577.8,186 C578.3,187.3 578.9,188.8 579.8,190 C580.7,191.2 582,192.1 583,193 C584,193.9 585.3,194.2 586.1,195.3 C586.9,196.4 587.2,198.2 587.6,199.6 C588,201 588.3,202.1 588.2,203.7 C588.1,205.3 587.4,208.1 587.2,209" fill="none" stroke="#fff200" stroke-width="2.0" stroke-linecap="round" stroke-linejoin="round"/><path d="M597.7,181.4 C597.8,182.2 597.8,184.4 598,186 C598.2,187.6 598.3,189.5 598.8,191.1 C599.3,192.7 600.1,194 601,195.4 C601.9,196.8 603,198.2 604,199.5 C605,200.8 605.9,201.9 607,203 C608.1,204.1 609.8,205.3 610.4,205.8" fill="none" stroke="#fff200" stroke-width="2.0" stroke-linecap="round" stroke-linejoin="round"/><path d="M634.6,195.3 C635.5,195.2 638.1,194.8 640,194.6 C641.9,194.4 645.2,194.3 646.2,194.2" fill="none" stroke="#fff200" stroke-width="1.5" stroke-linecap="round" stroke-linejoin="round"/><path d="M629.3,201.6 C629.1,202.2 628.4,204.2 628,205.4 C627.6,206.6 627.7,207.8 627.2,209 C626.7,210.2 625.5,212 625.1,212.6" fill="none" stroke="#fff200" stroke-width="1.8" stroke-linecap="round" stroke-linejoin="round"/><path d="M597.7,210 C597.6,210.5 597.2,212.1 597,213 C596.8,213.9 597,214.5 596.7,215.3 C596.4,216.1 595.5,217.1 595,218 C594.5,218.9 593.8,220.5 593.5,221" fill="none" stroke="#fff200" stroke-width="1.8" stroke-linecap="round" stroke-linejoin="round"/><path d="M562,203 C562.5,202.5 564,200.9 565,200 C566,199.1 567.7,198 568.2,197.6" fill="none" stroke="#fff200" stroke-width="1.3" stroke-linecap="round" stroke-linejoin="round"/><path d="M527.8,209 C528.3,209.7 530,212.3 531,213 C532,213.7 533.2,213 533.6,213" fill="none" stroke="#fff200" stroke-width="1.2" stroke-linecap="round" stroke-linejoin="round"/><path d="M508.8,214.6 C509.5,214.6 511.6,215 513,214.6 C514.4,214.2 516.5,212.6 517.2,212.2" fill="none" stroke="#fff200" stroke-width="1.2" stroke-linecap="round" stroke-linejoin="round"/><path d="M545.7,221 C545.9,221.7 546.2,223.8 546.6,225 C547,226.2 547.6,227.5 547.8,228" fill="none" stroke="#fff200" stroke-width="1.2" stroke-linecap="round" stroke-linejoin="round"/>
<path d="M512.4,213.4 C512.5,214.1 513.3,215.4 512.7,215.8 C512.2,216.3 510.1,216.3 509,216.3 C507.9,216.2 507.2,216 506.1,215.7 C505.1,215.4 503,215.2 502.6,214.7 C502.3,214.1 503.3,213 503.9,212.4 C504.5,211.8 505.2,211.6 506.1,211.1 C507,210.6 508.3,209.6 509.2,209.7 C510.2,209.7 511.2,210.9 511.7,211.5 C512.2,212.2 512.2,212.7 512.4,213.4Z" fill="#f2898b" stroke="#b5484d" stroke-width="0.4" />
<path d="M532.3,206.6 C532.5,207.3 532.8,208.6 532.1,209 C531.4,209.4 529.4,209.1 528.3,209.2 C527.2,209.2 526.3,209.4 525.3,209.2 C524.2,209 522.3,208.5 522.1,207.9 C521.8,207.3 523.3,206.4 523.8,205.7 C524.3,205.1 524.5,204.5 525.3,204 C526.1,203.5 527.7,202.7 528.6,202.9 C529.5,203 530.1,204.3 530.7,204.9 C531.3,205.5 532,205.9 532.3,206.6Z" fill="#f2898b" stroke="#b5484d" stroke-width="0.4" />
<path d="M549.6,218.8 C549.7,219.5 550.6,220.7 550.1,221.2 C549.5,221.7 547.5,221.9 546.4,221.9 C545.4,221.8 544.7,221.3 543.6,221 C542.6,220.7 540.6,220.6 540.1,220.1 C539.7,219.5 540.4,218.3 541,217.7 C541.6,217.2 542.7,217 543.6,216.6 C544.6,216.2 545.7,215.1 546.6,215.1 C547.6,215.2 548.8,216.2 549.3,216.8 C549.8,217.4 549.4,218.1 549.6,218.8Z" fill="#f2898b" stroke="#b5484d" stroke-width="0.4" />
<path d="M573.5,196 C573.3,196.6 571.5,197 570.8,197.6 C570,198.1 569.7,199 568.7,199.2 C567.7,199.5 565.7,199.5 565,199.1 C564.2,198.7 564.5,197.6 564.2,196.8 C563.9,196.1 562.9,195.5 563,194.9 C563.1,194.2 564.1,193.1 565,192.9 C565.9,192.6 567.3,193.4 568.5,193.6 C569.6,193.7 570.9,193.5 571.7,193.9 C572.5,194.3 573.6,195.4 573.5,196Z" fill="#f2898b" stroke="#b5484d" stroke-width="0.4" />
<path d="M654.5,193.4 C654.6,194 652.9,194.8 652,195.2 C651.2,195.7 650.4,195.8 649.3,196.1 C648.3,196.3 646.5,197 645.6,196.7 C644.8,196.4 644.6,195.1 644.4,194.4 C644.2,193.7 644.4,193.2 644.6,192.5 C644.8,191.8 644.8,190.4 645.6,190.1 C646.4,189.8 648.3,190.3 649.4,190.6 C650.4,190.8 651,191.2 651.8,191.7 C652.7,192.1 654.5,192.8 654.5,193.4Z" fill="#f2898b" stroke="#b5484d" stroke-width="0.4" />
</g>
<g transform="translate(472.9,224) rotate(11.5)"><path d="M-11.6,1.1 Q-1.6,0.1 8.4,1.1 Q-0.6,4.9 -11.6,1.1Z" fill="#fff200" stroke="#3f3a10" stroke-width="0.5"/><path d="M-8.4,-1.1 Q1.6,-2.1 11.6,-1.1 Q2.6,2.7 -8.4,-1.1Z" fill="#fff200" stroke="#3f3a10" stroke-width="0.5"/></g>
<g transform="translate(488.7,233.2) rotate(11.5)"><path d="M-11.6,1.1 Q-1.6,0.1 8.4,1.1 Q-0.6,4.9 -11.6,1.1Z" fill="#fff200" stroke="#3f3a10" stroke-width="0.5"/><path d="M-8.4,-1.1 Q1.6,-2.1 11.6,-1.1 Q2.6,2.7 -8.4,-1.1Z" fill="#fff200" stroke="#3f3a10" stroke-width="0.5"/></g>
<g transform="translate(509.8,231.3) rotate(11.5)"><path d="M-11.6,1.1 Q-1.6,0.1 8.4,1.1 Q-0.6,4.9 -11.6,1.1Z" fill="#fff200" stroke="#3f3a10" stroke-width="0.5"/><path d="M-8.4,-1.1 Q1.6,-2.1 11.6,-1.1 Q2.6,2.7 -8.4,-1.1Z" fill="#fff200" stroke="#3f3a10" stroke-width="0.5"/></g>
<g transform="translate(525.6,240.7) rotate(11.5)"><path d="M-11.6,1.1 Q-1.6,0.1 8.4,1.1 Q-0.6,4.9 -11.6,1.1Z" fill="#fff200" stroke="#3f3a10" stroke-width="0.5"/><path d="M-8.4,-1.1 Q1.6,-2.1 11.6,-1.1 Q2.6,2.7 -8.4,-1.1Z" fill="#fff200" stroke="#3f3a10" stroke-width="0.5"/></g>
<g transform="translate(559,241.3) rotate(-16.6)"><path d="M-11.6,1.1 Q-1.6,0.1 8.4,1.1 Q-0.6,4.9 -11.6,1.1Z" fill="#fff200" stroke="#3f3a10" stroke-width="0.5"/><path d="M-8.4,-1.1 Q1.6,-2.1 11.6,-1.1 Q2.6,2.7 -8.4,-1.1Z" fill="#fff200" stroke="#3f3a10" stroke-width="0.5"/></g>
<g transform="translate(585,231.7) rotate(-16.6)"><path d="M-11.6,1.1 Q-1.6,0.1 8.4,1.1 Q-0.6,4.9 -11.6,1.1Z" fill="#fff200" stroke="#3f3a10" stroke-width="0.5"/><path d="M-8.4,-1.1 Q1.6,-2.1 11.6,-1.1 Q2.6,2.7 -8.4,-1.1Z" fill="#fff200" stroke="#3f3a10" stroke-width="0.5"/></g>
<g transform="translate(608.5,226.1) rotate(-16.6)"><path d="M-11.6,1.1 Q-1.6,0.1 8.4,1.1 Q-0.6,4.9 -11.6,1.1Z" fill="#fff200" stroke="#3f3a10" stroke-width="0.5"/><path d="M-8.4,-1.1 Q1.6,-2.1 11.6,-1.1 Q2.6,2.7 -8.4,-1.1Z" fill="#fff200" stroke="#3f3a10" stroke-width="0.5"/></g>
<g transform="translate(638,212.9) rotate(-16.6)"><path d="M-11.6,1.1 Q-1.6,0.1 8.4,1.1 Q-0.6,4.9 -11.6,1.1Z" fill="#fff200" stroke="#3f3a10" stroke-width="0.5"/><path d="M-8.4,-1.1 Q1.6,-2.1 11.6,-1.1 Q2.6,2.7 -8.4,-1.1Z" fill="#fff200" stroke="#3f3a10" stroke-width="0.5"/></g>
<g transform="translate(660,208.6) rotate(-16.6)"><path d="M-11.6,1.1 Q-1.6,0.1 8.4,1.1 Q-0.6,4.9 -11.6,1.1Z" fill="#fff200" stroke="#3f3a10" stroke-width="0.5"/><path d="M-8.4,-1.1 Q1.6,-2.1 11.6,-1.1 Q2.6,2.7 -8.4,-1.1Z" fill="#fff200" stroke="#3f3a10" stroke-width="0.5"/></g>
<text x="558.8" y="215.6" font-size="13" text-anchor="middle" class="i" fill="#f15a3a">A</text>
<text x="575" y="218.8" font-size="13" text-anchor="middle" class="i" fill="#f15a3a">A′</text>
</g>
<text x="642.6" y="184.9" font-size="12.9" text-anchor="middle" class="l" fill="#231f20">MSC3</text>
<line x1="553" y1="69.2" x2="527.5" y2="71.6" stroke="#2b2b2b" stroke-width="0.7"/>
<path d="M517.5,72.6 L529.9,66.1 L528.1,71.6 L530.9,76.6Z" fill="#111" stroke="none" stroke-width="1" />
<line x1="625.5" y1="130.5" x2="525.3" y2="85.4" stroke="#2b2b2b" stroke-width="0.7"/>
<path d="M516.2,81.3 L530.2,81.8 L525.9,85.7 L525.9,91.5Z" fill="#111" stroke="none" stroke-width="1" />
<line x1="514" y1="156.8" x2="489.8" y2="160.6" stroke="#2b2b2b" stroke-width="0.7"/>
<path d="M479.9,162.2 L491.9,154.9 L490.4,160.5 L493.6,165.4Z" fill="#111" stroke="none" stroke-width="1" />
<line x1="561" y1="204.4" x2="485.2" y2="173.6" stroke="#2b2b2b" stroke-width="0.7"/>
<path d="M475.9,169.8 L489.9,169.8 L485.7,173.8 L485.9,179.6Z" fill="#111" stroke="none" stroke-width="1" />
<line x1="649.6" y1="195.7" x2="709.2" y2="169.7" stroke="#2b2b2b" stroke-width="0.7"/>
<path d="M718.4,165.7 L708.6,175.8 L708.7,169.9 L704.4,166Z" fill="#111" stroke="none" stroke-width="1" />
<path d="M622,230.2 L662,230.2 Q654,234.8 642,234.6 Q630,234.8 622,230.2Z" fill="url(#dots2)" stroke="#55501a" stroke-width="0.5" />
<path d="M650,230.6 L684.4,230.6 Q677.5,235.2 667.2,235 Q656.9,235.2 650,230.6Z" fill="url(#dots2)" stroke="#55501a" stroke-width="0.5" />
<path d="M701.7,229.2 L738.5,229.2 Q731.1,234.4 720.1,234.2 Q709.1,234.4 701.7,229.2Z" fill="url(#dots2)" stroke="#55501a" stroke-width="0.5" />
<path d="M745,229.2 L782.1,229.2 Q774.7,234.4 763.5,234.2 Q752.4,234.4 745,229.2Z" fill="url(#dots2)" stroke="#55501a" stroke-width="0.5" />
<line x1="738" y1="230.6" x2="745.5" y2="230.6" stroke="#8a3a2a" stroke-width="0.9"/>
<path d="M801.9,229.8 L827,229.8 Q822,232.7 814.5,232.6 Q806.9,232.7 801.9,229.8Z" fill="url(#dots2)" stroke="#55501a" stroke-width="0.5" />
<path d="M834,229.8 L859,229.8 Q854,232.7 846.5,232.6 Q839,232.7 834,229.8Z" fill="url(#dots2)" stroke="#55501a" stroke-width="0.5" />
<line x1="826.5" y1="230.6" x2="834.5" y2="230.6" stroke="#555" stroke-width="0.9"/>
<text x="606.5" y="249.2" font-size="12.4" class="c" fill="#231f20" textLength="57.6" lengthAdjust="spacing"><tspan class="i" font-size="12">A–A′</tspan> 剖面:</text>
<text x="606.5" y="262.2" font-size="12.4" text-anchor="start" class="c" fill="#231f20" textLength="50.3" lengthAdjust="spacing" >侧向切割</text>
<text x="699.4" y="249.2" font-size="12.4" class="c" fill="#231f20" textLength="57.6" lengthAdjust="spacing"><tspan class="i" font-size="12">B–B′</tspan> 剖面:</text>
<text x="699.4" y="262.2" font-size="12.4" text-anchor="start" class="c" fill="#231f20" textLength="50.3" lengthAdjust="spacing" >侧向对接</text>
<text x="791.1" y="249.2" font-size="12.4" class="c" fill="#231f20" textLength="57.6" lengthAdjust="spacing"><tspan class="i" font-size="12">C–C′</tspan> 剖面:</text>
<text x="791.1" y="262.2" font-size="12.4" text-anchor="start" class="c" fill="#231f20" textLength="50.3" lengthAdjust="spacing" >泥岩间隔</text>
<text x="93.8" y="282.9" font-size="12.4" text-anchor="start" class="c" fill="#231f20" textLength="162.6" lengthAdjust="spacing" >（a）水体深度与水动力变化</text>
<text x="575.2" y="283.6" font-size="12.4" text-anchor="start" class="c" fill="#231f20" textLength="113" lengthAdjust="spacing" >（b）砂体发育模式</text>
<g id="legend">
<rect x="112" y="299.3" width="47.9" height="17.6" fill="#fdb913" stroke="#333" stroke-width="1.1"/>
<path d="M116.7,308.1 h1.4 m1.2,0 h1.4 m13.3,0 h1.4 m1.2,0 h1.4 m12.5,0 h1.4 m1.2,0 h1.4" stroke="#5a4a20" stroke-width="1.2"/>
<text x="137.8" y="332" font-size="12.4" text-anchor="middle" class="c" fill="#231f20" textLength="38.5" lengthAdjust="spacing" >粉砂岩</text>
<rect x="232.4" y="299.3" width="47.9" height="17.6" fill="#fdb913" stroke="#333" stroke-width="1.1"/>
<path d="M235.4,308.1 h9 m12,0 h1.4 m1.2,0 h1.4 m12.5,0 h1.4 m1.2,0 h1.4" stroke="#5a4a20" stroke-width="1.1"/>
<text x="259.4" y="332" font-size="12.4" text-anchor="middle" class="c" fill="#231f20" textLength="64" lengthAdjust="spacing" >泥质粉砂岩</text>
<rect x="352.6" y="299.3" width="47.9" height="17.6" fill="#fdb913" stroke="#333" stroke-width="1.1"/>
<path d="M358.6,308.1 h1.4 m1.2,0 h1.4 m7,0 h8 m7,0 h8" stroke="#5a4a20" stroke-width="1.1"/>
<text x="373.8" y="332" font-size="12.4" text-anchor="middle" class="c" fill="#231f20" textLength="64" lengthAdjust="spacing" >粉砂质泥岩</text>
<rect x="472.9" y="299.3" width="47.9" height="17.6" fill="#72c3e0" stroke="#333" stroke-width="1.1"/>
<line x1="486.3" y1="308.1" x2="508.3" y2="308.1" stroke="#5b7f8c" stroke-width="1"/>
<text x="496" y="332" font-size="12.4" text-anchor="middle" class="c" fill="#231f20" textLength="26" lengthAdjust="spacing" >泥岩</text>
<rect x="593.3" y="299.3" width="47.9" height="17.6" fill="#f5a8ae" stroke="#333" stroke-width="1.1"/>
<line x1="610.9" y1="308.1" x2="624.5" y2="308.1" stroke="#8a5a5e" stroke-width="1"/>
<text x="617.6" y="332" font-size="12.4" text-anchor="middle" class="c" fill="#231f20" textLength="64" lengthAdjust="spacing" >紫红色泥岩</text>
<rect x="714.2" y="299.3" width="47.9" height="17.6" fill="#44a86c" stroke="#333" stroke-width="1.1"/>
<line x1="731.8" y1="308.1" x2="745.4" y2="308.1" stroke="#1f6a3e" stroke-width="1"/>
<text x="737.6" y="332" font-size="12.4" text-anchor="middle" class="c" fill="#231f20" textLength="51.4" lengthAdjust="spacing" >绿色泥岩</text>
<rect x="112" y="346.1" width="47.9" height="17.8" fill="#f5b9a5" stroke="#333" stroke-width="1.1"/>
<text x="133.8" y="378.9" font-size="12.4" text-anchor="middle" class="c" fill="#231f20" textLength="64" lengthAdjust="spacing" >浅水三角洲</text>
<text x="133.8" y="392" font-size="12.4" text-anchor="middle" class="c" fill="#231f20" textLength="26.2" lengthAdjust="spacing" >平原</text>
<rect x="232.4" y="346.1" width="47.9" height="17.8" fill="#00a673" stroke="#333" stroke-width="1.1"/>
<text x="256" y="378.9" font-size="12.4" text-anchor="middle" class="c" fill="#231f20" textLength="64" lengthAdjust="spacing" >浅水三角洲</text>
<text x="256" y="392" font-size="12.4" text-anchor="middle" class="c" fill="#231f20" textLength="26.2" lengthAdjust="spacing" >前缘</text>
<rect x="352.6" y="346.1" width="47.9" height="17.8" fill="#0caae8" stroke="#333" stroke-width="1.1"/>
<text x="375.6" y="378.9" font-size="12.4" text-anchor="middle" class="c" fill="#231f20" textLength="26.4" lengthAdjust="spacing" >浅湖</text>
<rect x="472.9" y="346.1" width="47.9" height="17.8" fill="#fff21f" stroke="#333" stroke-width="1.1"/>
<text x="496.2" y="378.9" font-size="12.4" text-anchor="middle" class="c" fill="#231f20" textLength="26.4" lengthAdjust="spacing" >河道</text>
<rect x="593.3" y="346.1" width="47.9" height="17.8" fill="#f08a8c" stroke="#333" stroke-width="1.1"/>
<text x="612.6" y="378.9" font-size="12.4" text-anchor="middle" class="c" fill="#231f20" textLength="39" lengthAdjust="spacing" >决口扇</text>
<rect x="714.2" y="346.1" width="47.9" height="17.8" fill="#fffbd0" stroke="#333" stroke-width="1.1"/>
<text x="736.8" y="378.9" font-size="12.4" text-anchor="middle" class="c" fill="#231f20" textLength="39" lengthAdjust="spacing" >席状砂</text>
</g>
</svg></body></html>
